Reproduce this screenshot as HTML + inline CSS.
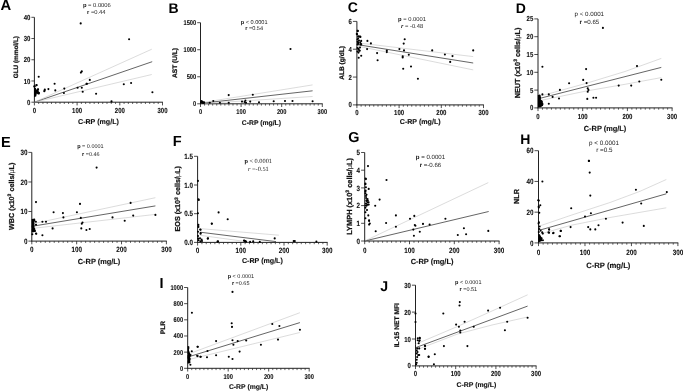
<!DOCTYPE html>
<html><head><meta charset="utf-8"><style>
html,body{margin:0;padding:0;background:#fff;width:685px;height:391px;overflow:hidden;font-family:"Liberation Sans", sans-serif;}
</style></head><body>
<svg width="685" height="391" viewBox="0 0 685 391" style="display:block;will-change:transform" text-rendering="geometricPrecision"><line x1="34.40" y1="17.30" x2="34.40" y2="102.60" stroke="#222" stroke-width="1.0"/>
<line x1="34.00" y1="102.20" x2="162.90" y2="102.20" stroke="#222" stroke-width="1.0"/>
<line x1="31.40" y1="102.20" x2="34.40" y2="102.20" stroke="#222" stroke-width="0.8"/>
<text transform="translate(30.40 104.76) scale(0.82 1)" font-size="7.32" font-weight="bold" text-anchor="end" fill="#111" stroke="#111" stroke-width="0.12" font-family='"Liberation Sans", sans-serif'>0</text>
<line x1="31.40" y1="80.97" x2="34.40" y2="80.97" stroke="#222" stroke-width="0.8"/>
<text transform="translate(30.40 83.54) scale(0.82 1)" font-size="7.32" font-weight="bold" text-anchor="end" fill="#111" stroke="#111" stroke-width="0.12" font-family='"Liberation Sans", sans-serif'>10</text>
<line x1="31.40" y1="59.75" x2="34.40" y2="59.75" stroke="#222" stroke-width="0.8"/>
<text transform="translate(30.40 62.31) scale(0.82 1)" font-size="7.32" font-weight="bold" text-anchor="end" fill="#111" stroke="#111" stroke-width="0.12" font-family='"Liberation Sans", sans-serif'>20</text>
<line x1="31.40" y1="38.52" x2="34.40" y2="38.52" stroke="#222" stroke-width="0.8"/>
<text transform="translate(30.40 41.09) scale(0.82 1)" font-size="7.32" font-weight="bold" text-anchor="end" fill="#111" stroke="#111" stroke-width="0.12" font-family='"Liberation Sans", sans-serif'>30</text>
<line x1="31.40" y1="17.30" x2="34.40" y2="17.30" stroke="#222" stroke-width="0.8"/>
<text transform="translate(30.40 19.86) scale(0.82 1)" font-size="7.32" font-weight="bold" text-anchor="end" fill="#111" stroke="#111" stroke-width="0.12" font-family='"Liberation Sans", sans-serif'>40</text>
<line x1="34.40" y1="102.20" x2="34.40" y2="105.40" stroke="#222" stroke-width="0.8"/>
<line x1="38.67" y1="102.20" x2="38.67" y2="104.00" stroke="#222" stroke-width="0.7"/>
<line x1="42.94" y1="102.20" x2="42.94" y2="104.00" stroke="#222" stroke-width="0.7"/>
<line x1="47.21" y1="102.20" x2="47.21" y2="104.00" stroke="#222" stroke-width="0.7"/>
<line x1="51.48" y1="102.20" x2="51.48" y2="104.00" stroke="#222" stroke-width="0.7"/>
<line x1="55.75" y1="102.20" x2="55.75" y2="104.00" stroke="#222" stroke-width="0.7"/>
<line x1="60.02" y1="102.20" x2="60.02" y2="104.00" stroke="#222" stroke-width="0.7"/>
<line x1="64.29" y1="102.20" x2="64.29" y2="104.00" stroke="#222" stroke-width="0.7"/>
<line x1="68.56" y1="102.20" x2="68.56" y2="104.00" stroke="#222" stroke-width="0.7"/>
<line x1="72.83" y1="102.20" x2="72.83" y2="104.00" stroke="#222" stroke-width="0.7"/>
<line x1="77.10" y1="102.20" x2="77.10" y2="105.40" stroke="#222" stroke-width="0.8"/>
<line x1="81.37" y1="102.20" x2="81.37" y2="104.00" stroke="#222" stroke-width="0.7"/>
<line x1="85.64" y1="102.20" x2="85.64" y2="104.00" stroke="#222" stroke-width="0.7"/>
<line x1="89.91" y1="102.20" x2="89.91" y2="104.00" stroke="#222" stroke-width="0.7"/>
<line x1="94.18" y1="102.20" x2="94.18" y2="104.00" stroke="#222" stroke-width="0.7"/>
<line x1="98.45" y1="102.20" x2="98.45" y2="104.00" stroke="#222" stroke-width="0.7"/>
<line x1="102.72" y1="102.20" x2="102.72" y2="104.00" stroke="#222" stroke-width="0.7"/>
<line x1="106.99" y1="102.20" x2="106.99" y2="104.00" stroke="#222" stroke-width="0.7"/>
<line x1="111.26" y1="102.20" x2="111.26" y2="104.00" stroke="#222" stroke-width="0.7"/>
<line x1="115.53" y1="102.20" x2="115.53" y2="104.00" stroke="#222" stroke-width="0.7"/>
<line x1="119.80" y1="102.20" x2="119.80" y2="105.40" stroke="#222" stroke-width="0.8"/>
<line x1="124.07" y1="102.20" x2="124.07" y2="104.00" stroke="#222" stroke-width="0.7"/>
<line x1="128.34" y1="102.20" x2="128.34" y2="104.00" stroke="#222" stroke-width="0.7"/>
<line x1="132.61" y1="102.20" x2="132.61" y2="104.00" stroke="#222" stroke-width="0.7"/>
<line x1="136.88" y1="102.20" x2="136.88" y2="104.00" stroke="#222" stroke-width="0.7"/>
<line x1="141.15" y1="102.20" x2="141.15" y2="104.00" stroke="#222" stroke-width="0.7"/>
<line x1="145.42" y1="102.20" x2="145.42" y2="104.00" stroke="#222" stroke-width="0.7"/>
<line x1="149.69" y1="102.20" x2="149.69" y2="104.00" stroke="#222" stroke-width="0.7"/>
<line x1="153.96" y1="102.20" x2="153.96" y2="104.00" stroke="#222" stroke-width="0.7"/>
<line x1="158.23" y1="102.20" x2="158.23" y2="104.00" stroke="#222" stroke-width="0.7"/>
<line x1="162.50" y1="102.20" x2="162.50" y2="105.40" stroke="#222" stroke-width="0.8"/>
<text transform="translate(34.40 112.92) scale(0.82 1)" font-size="7.32" font-weight="bold" text-anchor="middle" fill="#111" stroke="#111" stroke-width="0.12" font-family='"Liberation Sans", sans-serif'>0</text>
<text transform="translate(77.10 112.92) scale(0.82 1)" font-size="7.32" font-weight="bold" text-anchor="middle" fill="#111" stroke="#111" stroke-width="0.12" font-family='"Liberation Sans", sans-serif'>100</text>
<text transform="translate(119.80 112.92) scale(0.82 1)" font-size="7.32" font-weight="bold" text-anchor="middle" fill="#111" stroke="#111" stroke-width="0.12" font-family='"Liberation Sans", sans-serif'>200</text>
<text transform="translate(162.50 112.92) scale(0.82 1)" font-size="7.32" font-weight="bold" text-anchor="middle" fill="#111" stroke="#111" stroke-width="0.12" font-family='"Liberation Sans", sans-serif'>300</text>
<text x="98.45" y="123.81" font-size="7.1" font-weight="bold" text-anchor="middle" fill="#111" font-family='"Liberation Sans", sans-serif' stroke="#111" stroke-width="0.12">C-RP (mg/L)</text>
<text x="17.60" y="57.20" font-size="6.4" font-weight="bold" text-anchor="middle" fill="#111" stroke="#111" stroke-width="0.25" font-family='"Liberation Sans", sans-serif' transform="rotate(-90 17.60 57.20)">GLU (mmol/L)</text>
<text x="0.60" y="10.07" font-size="14.8" font-weight="bold" text-anchor="start" fill="#000" font-family='"Liberation Sans", sans-serif'>A</text>
<text x="82.90" y="7.12" font-size="5.8" xml:space="preserve"><tspan font-weight="bold" font-style="normal" font-family='"Liberation Sans", sans-serif' fill="#111">p</tspan><tspan font-weight="normal" font-style="normal" font-family='"Liberation Sans", sans-serif' fill="#222"> = 0.0006</tspan></text>
<text x="87.00" y="14.32" font-size="5.8" xml:space="preserve"><tspan font-weight="bold" font-style="normal" font-family='"Liberation Sans", sans-serif' fill="#111">r</tspan><tspan font-weight="normal" font-style="normal" font-family='"Liberation Sans", sans-serif' fill="#222"> =0.44</tspan></text>
<line x1="34.40" y1="102.20" x2="152.20" y2="61.70" stroke="#222" stroke-width="0.7"/>
<line x1="34.40" y1="102.20" x2="151.80" y2="49.20" stroke="#b8b8b8" stroke-width="0.5"/>
<line x1="34.40" y1="102.20" x2="151.80" y2="74.50" stroke="#b8b8b8" stroke-width="0.5"/>
<circle cx="80.70" cy="23.40" r="1.05" fill="#000"/>
<circle cx="129.10" cy="39.20" r="1.05" fill="#000"/>
<circle cx="38.70" cy="76.70" r="1.05" fill="#000"/>
<circle cx="81.80" cy="71.40" r="1.05" fill="#000"/>
<circle cx="80.90" cy="72.60" r="1.05" fill="#000"/>
<circle cx="54.60" cy="83.70" r="1.05" fill="#000"/>
<circle cx="55.30" cy="90.40" r="1.05" fill="#000"/>
<circle cx="48.40" cy="89.10" r="1.05" fill="#000"/>
<circle cx="44.80" cy="89.50" r="1.05" fill="#000"/>
<circle cx="44.30" cy="91.30" r="1.05" fill="#000"/>
<circle cx="64.30" cy="88.60" r="1.05" fill="#000"/>
<circle cx="63.90" cy="93.00" r="1.05" fill="#000"/>
<circle cx="77.60" cy="87.70" r="1.05" fill="#000"/>
<circle cx="81.80" cy="87.70" r="1.05" fill="#000"/>
<circle cx="82.70" cy="91.80" r="1.05" fill="#000"/>
<circle cx="86.90" cy="83.80" r="1.05" fill="#000"/>
<circle cx="89.80" cy="79.90" r="1.05" fill="#000"/>
<circle cx="86.50" cy="83.70" r="1.05" fill="#000"/>
<circle cx="96.10" cy="93.70" r="1.05" fill="#000"/>
<circle cx="123.80" cy="84.30" r="1.05" fill="#000"/>
<circle cx="131.10" cy="83.00" r="1.05" fill="#000"/>
<circle cx="152.40" cy="92.20" r="1.05" fill="#000"/>
<circle cx="111.50" cy="101.40" r="1.05" fill="#000"/>
<circle cx="36.50" cy="85.20" r="1.05" fill="#000"/>
<circle cx="34.70" cy="86.60" r="1.05" fill="#000"/>
<circle cx="38.10" cy="89.20" r="1.05" fill="#000"/>
<circle cx="36.50" cy="85.10" r="1.05" fill="#000"/>
<circle cx="34.30" cy="86.40" r="1.05" fill="#000"/>
<circle cx="37.90" cy="89.50" r="1.05" fill="#000"/>
<circle cx="38.90" cy="93.00" r="1.05" fill="#000"/>
<circle cx="37.20" cy="92.00" r="1.05" fill="#000"/>
<circle cx="44.60" cy="90.50" r="1.05" fill="#000"/>
<polygon points="34.00,88.00 35.80,88.00 36.50,89.80 37.50,89.00 38.80,89.60 38.40,91.00 39.80,92.50 39.50,94.50 38.00,94.60 36.80,93.60 36.20,96.40 34.00,96.90" fill="#000"/>
<line x1="200.50" y1="22.70" x2="200.50" y2="104.20" stroke="#222" stroke-width="1.0"/>
<line x1="200.10" y1="103.80" x2="322.70" y2="103.80" stroke="#222" stroke-width="1.0"/>
<line x1="197.20" y1="103.80" x2="200.50" y2="103.80" stroke="#222" stroke-width="0.8"/>
<text transform="translate(196.20 106.24) scale(0.82 1)" font-size="6.96" font-weight="bold" text-anchor="end" fill="#111" stroke="#111" stroke-width="0.12" font-family='"Liberation Sans", sans-serif'>0</text>
<line x1="197.20" y1="76.77" x2="200.50" y2="76.77" stroke="#222" stroke-width="0.8"/>
<text transform="translate(196.20 79.20) scale(0.82 1)" font-size="6.96" font-weight="bold" text-anchor="end" fill="#111" stroke="#111" stroke-width="0.12" font-family='"Liberation Sans", sans-serif'>500</text>
<line x1="197.20" y1="49.73" x2="200.50" y2="49.73" stroke="#222" stroke-width="0.8"/>
<text transform="translate(196.20 52.17) scale(0.82 1)" font-size="6.96" font-weight="bold" text-anchor="end" fill="#111" stroke="#111" stroke-width="0.12" font-family='"Liberation Sans", sans-serif'>1000</text>
<line x1="197.20" y1="22.70" x2="200.50" y2="22.70" stroke="#222" stroke-width="0.8"/>
<text transform="translate(196.20 25.14) scale(0.82 1)" font-size="6.96" font-weight="bold" text-anchor="end" fill="#111" stroke="#111" stroke-width="0.12" font-family='"Liberation Sans", sans-serif'>1500</text>
<line x1="200.50" y1="103.80" x2="200.50" y2="107.00" stroke="#222" stroke-width="0.8"/>
<line x1="204.56" y1="103.80" x2="204.56" y2="105.60" stroke="#222" stroke-width="0.7"/>
<line x1="208.62" y1="103.80" x2="208.62" y2="105.60" stroke="#222" stroke-width="0.7"/>
<line x1="212.68" y1="103.80" x2="212.68" y2="105.60" stroke="#222" stroke-width="0.7"/>
<line x1="216.74" y1="103.80" x2="216.74" y2="105.60" stroke="#222" stroke-width="0.7"/>
<line x1="220.80" y1="103.80" x2="220.80" y2="105.60" stroke="#222" stroke-width="0.7"/>
<line x1="224.86" y1="103.80" x2="224.86" y2="105.60" stroke="#222" stroke-width="0.7"/>
<line x1="228.92" y1="103.80" x2="228.92" y2="105.60" stroke="#222" stroke-width="0.7"/>
<line x1="232.98" y1="103.80" x2="232.98" y2="105.60" stroke="#222" stroke-width="0.7"/>
<line x1="237.04" y1="103.80" x2="237.04" y2="105.60" stroke="#222" stroke-width="0.7"/>
<line x1="241.10" y1="103.80" x2="241.10" y2="107.00" stroke="#222" stroke-width="0.8"/>
<line x1="245.16" y1="103.80" x2="245.16" y2="105.60" stroke="#222" stroke-width="0.7"/>
<line x1="249.22" y1="103.80" x2="249.22" y2="105.60" stroke="#222" stroke-width="0.7"/>
<line x1="253.28" y1="103.80" x2="253.28" y2="105.60" stroke="#222" stroke-width="0.7"/>
<line x1="257.34" y1="103.80" x2="257.34" y2="105.60" stroke="#222" stroke-width="0.7"/>
<line x1="261.40" y1="103.80" x2="261.40" y2="105.60" stroke="#222" stroke-width="0.7"/>
<line x1="265.46" y1="103.80" x2="265.46" y2="105.60" stroke="#222" stroke-width="0.7"/>
<line x1="269.52" y1="103.80" x2="269.52" y2="105.60" stroke="#222" stroke-width="0.7"/>
<line x1="273.58" y1="103.80" x2="273.58" y2="105.60" stroke="#222" stroke-width="0.7"/>
<line x1="277.64" y1="103.80" x2="277.64" y2="105.60" stroke="#222" stroke-width="0.7"/>
<line x1="281.70" y1="103.80" x2="281.70" y2="107.00" stroke="#222" stroke-width="0.8"/>
<line x1="285.76" y1="103.80" x2="285.76" y2="105.60" stroke="#222" stroke-width="0.7"/>
<line x1="289.82" y1="103.80" x2="289.82" y2="105.60" stroke="#222" stroke-width="0.7"/>
<line x1="293.88" y1="103.80" x2="293.88" y2="105.60" stroke="#222" stroke-width="0.7"/>
<line x1="297.94" y1="103.80" x2="297.94" y2="105.60" stroke="#222" stroke-width="0.7"/>
<line x1="302.00" y1="103.80" x2="302.00" y2="105.60" stroke="#222" stroke-width="0.7"/>
<line x1="306.06" y1="103.80" x2="306.06" y2="105.60" stroke="#222" stroke-width="0.7"/>
<line x1="310.12" y1="103.80" x2="310.12" y2="105.60" stroke="#222" stroke-width="0.7"/>
<line x1="314.18" y1="103.80" x2="314.18" y2="105.60" stroke="#222" stroke-width="0.7"/>
<line x1="318.24" y1="103.80" x2="318.24" y2="105.60" stroke="#222" stroke-width="0.7"/>
<line x1="322.30" y1="103.80" x2="322.30" y2="107.00" stroke="#222" stroke-width="0.8"/>
<text transform="translate(200.50 114.47) scale(0.82 1)" font-size="6.96" font-weight="bold" text-anchor="middle" fill="#111" stroke="#111" stroke-width="0.12" font-family='"Liberation Sans", sans-serif'>0</text>
<text transform="translate(241.10 114.47) scale(0.82 1)" font-size="6.96" font-weight="bold" text-anchor="middle" fill="#111" stroke="#111" stroke-width="0.12" font-family='"Liberation Sans", sans-serif'>100</text>
<text transform="translate(281.70 114.47) scale(0.82 1)" font-size="6.96" font-weight="bold" text-anchor="middle" fill="#111" stroke="#111" stroke-width="0.12" font-family='"Liberation Sans", sans-serif'>200</text>
<text transform="translate(322.30 114.47) scale(0.82 1)" font-size="6.96" font-weight="bold" text-anchor="middle" fill="#111" stroke="#111" stroke-width="0.12" font-family='"Liberation Sans", sans-serif'>300</text>
<text x="261.40" y="125.10" font-size="6.8" font-weight="bold" text-anchor="middle" fill="#111" font-family='"Liberation Sans", sans-serif' stroke="#111" stroke-width="0.12">C-RP (mg/L)</text>
<text x="177.28" y="63.00" font-size="6.6" font-weight="bold" text-anchor="middle" fill="#111" stroke="#111" stroke-width="0.25" font-family='"Liberation Sans", sans-serif' transform="rotate(-90 177.28 63.00)">AST (U/L)</text>
<text x="168.60" y="12.58" font-size="14" font-weight="bold" text-anchor="start" fill="#000" font-family='"Liberation Sans", sans-serif'>B</text>
<text x="240.70" y="23.58" font-size="5.6" xml:space="preserve"><tspan font-weight="bold" font-style="normal" font-family='"Liberation Sans", sans-serif' fill="#111">p</tspan><tspan font-weight="normal" font-style="normal" font-family='"Liberation Sans", sans-serif' fill="#222"> &lt; 0.0001</tspan></text>
<text x="245.20" y="30.08" font-size="5.6" xml:space="preserve"><tspan font-weight="bold" font-style="normal" font-family='"Liberation Sans", sans-serif' fill="#111">r</tspan><tspan font-weight="normal" font-style="normal" font-family='"Liberation Sans", sans-serif' fill="#222"> =0.54</tspan></text>
<line x1="202.00" y1="103.20" x2="312.60" y2="90.80" stroke="#222" stroke-width="0.7"/>
<line x1="202.00" y1="102.60" x2="312.60" y2="84.90" stroke="#b8b8b8" stroke-width="0.5"/>
<line x1="202.00" y1="103.60" x2="312.60" y2="96.50" stroke="#b8b8b8" stroke-width="0.5"/>
<circle cx="228.70" cy="95.10" r="1.05" fill="#000"/>
<circle cx="252.80" cy="94.70" r="1.05" fill="#000"/>
<circle cx="290.50" cy="49.00" r="1.05" fill="#000"/>
<circle cx="273.70" cy="101.20" r="1.05" fill="#000"/>
<circle cx="285.00" cy="101.00" r="1.05" fill="#000"/>
<circle cx="292.50" cy="101.00" r="1.05" fill="#000"/>
<circle cx="312.60" cy="101.20" r="1.05" fill="#000"/>
<circle cx="259.00" cy="102.30" r="1.05" fill="#000"/>
<circle cx="250.20" cy="101.60" r="1.05" fill="#000"/>
<circle cx="245.40" cy="100.60" r="1.05" fill="#000"/>
<circle cx="244.60" cy="102.00" r="1.05" fill="#000"/>
<circle cx="246.00" cy="102.70" r="1.05" fill="#000"/>
<circle cx="242.00" cy="101.60" r="1.05" fill="#000"/>
<circle cx="228.70" cy="102.70" r="1.05" fill="#000"/>
<circle cx="219.90" cy="102.70" r="1.05" fill="#000"/>
<circle cx="213.30" cy="101.00" r="1.05" fill="#000"/>
<circle cx="209.80" cy="102.70" r="1.05" fill="#000"/>
<circle cx="201.00" cy="102.50" r="1.05" fill="#000"/>
<circle cx="202.50" cy="101.80" r="1.05" fill="#000"/>
<circle cx="204.00" cy="102.80" r="1.05" fill="#000"/>
<circle cx="201.50" cy="101.00" r="1.05" fill="#000"/>
<circle cx="203.00" cy="103.00" r="1.05" fill="#000"/>
<polygon points="200.40,101.30 202.20,101.00 203.20,101.60 204.30,101.20 205.20,102.00 205.00,103.60 200.40,103.60" fill="#000"/>
<line x1="356.90" y1="21.40" x2="356.90" y2="105.30" stroke="#222" stroke-width="1.0"/>
<line x1="356.50" y1="104.90" x2="483.90" y2="104.90" stroke="#222" stroke-width="1.0"/>
<line x1="352.90" y1="104.90" x2="356.90" y2="104.90" stroke="#222" stroke-width="0.8"/>
<text transform="translate(351.90 107.46) scale(0.82 1)" font-size="7.32" font-weight="bold" text-anchor="end" fill="#111" stroke="#111" stroke-width="0.12" font-family='"Liberation Sans", sans-serif'>0</text>
<line x1="352.90" y1="77.07" x2="356.90" y2="77.07" stroke="#222" stroke-width="0.8"/>
<text transform="translate(351.90 79.63) scale(0.82 1)" font-size="7.32" font-weight="bold" text-anchor="end" fill="#111" stroke="#111" stroke-width="0.12" font-family='"Liberation Sans", sans-serif'>2</text>
<line x1="352.90" y1="49.23" x2="356.90" y2="49.23" stroke="#222" stroke-width="0.8"/>
<text transform="translate(351.90 51.79) scale(0.82 1)" font-size="7.32" font-weight="bold" text-anchor="end" fill="#111" stroke="#111" stroke-width="0.12" font-family='"Liberation Sans", sans-serif'>4</text>
<line x1="352.90" y1="21.40" x2="356.90" y2="21.40" stroke="#222" stroke-width="0.8"/>
<text transform="translate(351.90 23.96) scale(0.82 1)" font-size="7.32" font-weight="bold" text-anchor="end" fill="#111" stroke="#111" stroke-width="0.12" font-family='"Liberation Sans", sans-serif'>6</text>
<line x1="356.90" y1="104.90" x2="356.90" y2="108.10" stroke="#222" stroke-width="0.8"/>
<line x1="361.12" y1="104.90" x2="361.12" y2="106.70" stroke="#222" stroke-width="0.7"/>
<line x1="365.34" y1="104.90" x2="365.34" y2="106.70" stroke="#222" stroke-width="0.7"/>
<line x1="369.56" y1="104.90" x2="369.56" y2="106.70" stroke="#222" stroke-width="0.7"/>
<line x1="373.78" y1="104.90" x2="373.78" y2="106.70" stroke="#222" stroke-width="0.7"/>
<line x1="378.00" y1="104.90" x2="378.00" y2="106.70" stroke="#222" stroke-width="0.7"/>
<line x1="382.22" y1="104.90" x2="382.22" y2="106.70" stroke="#222" stroke-width="0.7"/>
<line x1="386.44" y1="104.90" x2="386.44" y2="106.70" stroke="#222" stroke-width="0.7"/>
<line x1="390.66" y1="104.90" x2="390.66" y2="106.70" stroke="#222" stroke-width="0.7"/>
<line x1="394.88" y1="104.90" x2="394.88" y2="106.70" stroke="#222" stroke-width="0.7"/>
<line x1="399.10" y1="104.90" x2="399.10" y2="108.10" stroke="#222" stroke-width="0.8"/>
<line x1="403.32" y1="104.90" x2="403.32" y2="106.70" stroke="#222" stroke-width="0.7"/>
<line x1="407.54" y1="104.90" x2="407.54" y2="106.70" stroke="#222" stroke-width="0.7"/>
<line x1="411.76" y1="104.90" x2="411.76" y2="106.70" stroke="#222" stroke-width="0.7"/>
<line x1="415.98" y1="104.90" x2="415.98" y2="106.70" stroke="#222" stroke-width="0.7"/>
<line x1="420.20" y1="104.90" x2="420.20" y2="106.70" stroke="#222" stroke-width="0.7"/>
<line x1="424.42" y1="104.90" x2="424.42" y2="106.70" stroke="#222" stroke-width="0.7"/>
<line x1="428.64" y1="104.90" x2="428.64" y2="106.70" stroke="#222" stroke-width="0.7"/>
<line x1="432.86" y1="104.90" x2="432.86" y2="106.70" stroke="#222" stroke-width="0.7"/>
<line x1="437.08" y1="104.90" x2="437.08" y2="106.70" stroke="#222" stroke-width="0.7"/>
<line x1="441.30" y1="104.90" x2="441.30" y2="108.10" stroke="#222" stroke-width="0.8"/>
<line x1="445.52" y1="104.90" x2="445.52" y2="106.70" stroke="#222" stroke-width="0.7"/>
<line x1="449.74" y1="104.90" x2="449.74" y2="106.70" stroke="#222" stroke-width="0.7"/>
<line x1="453.96" y1="104.90" x2="453.96" y2="106.70" stroke="#222" stroke-width="0.7"/>
<line x1="458.18" y1="104.90" x2="458.18" y2="106.70" stroke="#222" stroke-width="0.7"/>
<line x1="462.40" y1="104.90" x2="462.40" y2="106.70" stroke="#222" stroke-width="0.7"/>
<line x1="466.62" y1="104.90" x2="466.62" y2="106.70" stroke="#222" stroke-width="0.7"/>
<line x1="470.84" y1="104.90" x2="470.84" y2="106.70" stroke="#222" stroke-width="0.7"/>
<line x1="475.06" y1="104.90" x2="475.06" y2="106.70" stroke="#222" stroke-width="0.7"/>
<line x1="479.28" y1="104.90" x2="479.28" y2="106.70" stroke="#222" stroke-width="0.7"/>
<line x1="483.50" y1="104.90" x2="483.50" y2="108.10" stroke="#222" stroke-width="0.8"/>
<text transform="translate(356.90 115.32) scale(0.82 1)" font-size="7.32" font-weight="bold" text-anchor="middle" fill="#111" stroke="#111" stroke-width="0.12" font-family='"Liberation Sans", sans-serif'>0</text>
<text transform="translate(399.10 115.32) scale(0.82 1)" font-size="7.32" font-weight="bold" text-anchor="middle" fill="#111" stroke="#111" stroke-width="0.12" font-family='"Liberation Sans", sans-serif'>100</text>
<text transform="translate(441.30 115.32) scale(0.82 1)" font-size="7.32" font-weight="bold" text-anchor="middle" fill="#111" stroke="#111" stroke-width="0.12" font-family='"Liberation Sans", sans-serif'>200</text>
<text transform="translate(483.50 115.32) scale(0.82 1)" font-size="7.32" font-weight="bold" text-anchor="middle" fill="#111" stroke="#111" stroke-width="0.12" font-family='"Liberation Sans", sans-serif'>300</text>
<text x="420.20" y="124.21" font-size="7.1" font-weight="bold" text-anchor="middle" fill="#111" font-family='"Liberation Sans", sans-serif' stroke="#111" stroke-width="0.12">C-RP (mg/L)</text>
<text x="344.08" y="62.95" font-size="6.6" font-weight="bold" text-anchor="middle" fill="#111" stroke="#111" stroke-width="0.25" font-family='"Liberation Sans", sans-serif' transform="rotate(-90 344.08 62.95)">ALB (g/dL)</text>
<text x="347.66" y="12.42" font-size="14" font-weight="bold" text-anchor="start" fill="#000" font-family='"Liberation Sans", sans-serif'>C</text>
<text x="398.00" y="20.62" font-size="5.8" xml:space="preserve"><tspan font-weight="bold" font-style="normal" font-family='"Liberation Sans", sans-serif' fill="#111">p</tspan><tspan font-weight="normal" font-style="normal" font-family='"Liberation Sans", sans-serif' fill="#222"> = 0.0001</tspan></text>
<text x="401.10" y="27.52" font-size="5.8" xml:space="preserve"><tspan font-weight="bold" font-style="italic" font-family='"Liberation Sans", sans-serif' fill="#111">r</tspan><tspan font-weight="normal" font-style="normal" font-family='"Liberation Sans", sans-serif' fill="#222"> = -0.48</tspan></text>
<line x1="357.20" y1="44.60" x2="473.20" y2="63.00" stroke="#222" stroke-width="0.7"/>
<line x1="357.20" y1="42.80" x2="473.20" y2="56.60" stroke="#b8b8b8" stroke-width="0.5"/>
<line x1="357.20" y1="46.00" x2="473.20" y2="69.90" stroke="#b8b8b8" stroke-width="0.5"/>
<circle cx="357.60" cy="30.90" r="1.05" fill="#000"/>
<circle cx="357.10" cy="34.20" r="1.05" fill="#000"/>
<circle cx="358.10" cy="36.30" r="1.05" fill="#000"/>
<circle cx="360.20" cy="36.50" r="1.05" fill="#000"/>
<circle cx="358.10" cy="38.30" r="1.05" fill="#000"/>
<circle cx="361.20" cy="40.90" r="1.05" fill="#000"/>
<circle cx="367.40" cy="40.90" r="1.05" fill="#000"/>
<circle cx="370.90" cy="43.40" r="1.05" fill="#000"/>
<circle cx="358.10" cy="42.40" r="1.05" fill="#000"/>
<circle cx="357.60" cy="44.40" r="1.05" fill="#000"/>
<circle cx="360.70" cy="43.90" r="1.05" fill="#000"/>
<circle cx="361.20" cy="44.40" r="1.05" fill="#000"/>
<circle cx="404.70" cy="39.30" r="1.05" fill="#000"/>
<circle cx="403.70" cy="43.60" r="1.05" fill="#000"/>
<circle cx="399.40" cy="49.10" r="1.05" fill="#000"/>
<circle cx="404.00" cy="50.40" r="1.05" fill="#000"/>
<circle cx="386.80" cy="50.60" r="1.05" fill="#000"/>
<circle cx="386.80" cy="52.10" r="1.05" fill="#000"/>
<circle cx="408.80" cy="54.70" r="1.05" fill="#000"/>
<circle cx="402.70" cy="56.20" r="1.05" fill="#000"/>
<circle cx="402.70" cy="57.50" r="1.05" fill="#000"/>
<circle cx="377.10" cy="53.10" r="1.05" fill="#000"/>
<circle cx="377.60" cy="60.30" r="1.05" fill="#000"/>
<circle cx="367.10" cy="49.10" r="1.05" fill="#000"/>
<circle cx="361.20" cy="55.70" r="1.05" fill="#000"/>
<circle cx="358.70" cy="57.80" r="1.05" fill="#000"/>
<circle cx="357.50" cy="48.00" r="1.05" fill="#000"/>
<circle cx="358.50" cy="49.50" r="1.05" fill="#000"/>
<circle cx="359.50" cy="50.50" r="1.05" fill="#000"/>
<circle cx="357.50" cy="51.50" r="1.05" fill="#000"/>
<circle cx="358.50" cy="52.60" r="1.05" fill="#000"/>
<circle cx="360.00" cy="47.50" r="1.05" fill="#000"/>
<circle cx="357.80" cy="30.90" r="1.05" fill="#000"/>
<circle cx="356.80" cy="33.90" r="1.05" fill="#000"/>
<circle cx="359.30" cy="36.50" r="1.05" fill="#000"/>
<circle cx="360.40" cy="37.00" r="1.05" fill="#000"/>
<circle cx="357.50" cy="39.50" r="1.05" fill="#000"/>
<circle cx="359.00" cy="40.50" r="1.05" fill="#000"/>
<circle cx="357.60" cy="41.80" r="1.05" fill="#000"/>
<circle cx="360.20" cy="42.30" r="1.05" fill="#000"/>
<circle cx="358.30" cy="43.60" r="1.05" fill="#000"/>
<circle cx="360.50" cy="44.50" r="1.05" fill="#000"/>
<circle cx="358.50" cy="48.70" r="1.05" fill="#000"/>
<circle cx="359.60" cy="50.80" r="1.05" fill="#000"/>
<circle cx="473.20" cy="50.40" r="1.05" fill="#000"/>
<circle cx="444.90" cy="54.50" r="1.05" fill="#000"/>
<circle cx="452.50" cy="56.10" r="1.05" fill="#000"/>
<circle cx="450.20" cy="61.90" r="1.05" fill="#000"/>
<circle cx="432.20" cy="50.40" r="1.05" fill="#000"/>
<circle cx="417.90" cy="78.70" r="1.05" fill="#000"/>
<circle cx="411.00" cy="66.50" r="1.05" fill="#000"/>
<circle cx="403.20" cy="68.80" r="1.05" fill="#000"/>
<line x1="538.00" y1="18.90" x2="538.00" y2="108.30" stroke="#222" stroke-width="1.0"/>
<line x1="537.60" y1="107.90" x2="672.50" y2="107.90" stroke="#222" stroke-width="1.0"/>
<line x1="534.30" y1="107.90" x2="538.00" y2="107.90" stroke="#222" stroke-width="0.8"/>
<text transform="translate(533.30 110.46) scale(0.82 1)" font-size="7.32" font-weight="bold" text-anchor="end" fill="#111" stroke="#111" stroke-width="0.12" font-family='"Liberation Sans", sans-serif'>0</text>
<line x1="534.30" y1="90.10" x2="538.00" y2="90.10" stroke="#222" stroke-width="0.8"/>
<text transform="translate(533.30 92.66) scale(0.82 1)" font-size="7.32" font-weight="bold" text-anchor="end" fill="#111" stroke="#111" stroke-width="0.12" font-family='"Liberation Sans", sans-serif'>5</text>
<line x1="534.30" y1="72.30" x2="538.00" y2="72.30" stroke="#222" stroke-width="0.8"/>
<text transform="translate(533.30 74.86) scale(0.82 1)" font-size="7.32" font-weight="bold" text-anchor="end" fill="#111" stroke="#111" stroke-width="0.12" font-family='"Liberation Sans", sans-serif'>10</text>
<line x1="534.30" y1="54.50" x2="538.00" y2="54.50" stroke="#222" stroke-width="0.8"/>
<text transform="translate(533.30 57.06) scale(0.82 1)" font-size="7.32" font-weight="bold" text-anchor="end" fill="#111" stroke="#111" stroke-width="0.12" font-family='"Liberation Sans", sans-serif'>15</text>
<line x1="534.30" y1="36.70" x2="538.00" y2="36.70" stroke="#222" stroke-width="0.8"/>
<text transform="translate(533.30 39.26) scale(0.82 1)" font-size="7.32" font-weight="bold" text-anchor="end" fill="#111" stroke="#111" stroke-width="0.12" font-family='"Liberation Sans", sans-serif'>20</text>
<line x1="534.30" y1="18.90" x2="538.00" y2="18.90" stroke="#222" stroke-width="0.8"/>
<text transform="translate(533.30 21.46) scale(0.82 1)" font-size="7.32" font-weight="bold" text-anchor="end" fill="#111" stroke="#111" stroke-width="0.12" font-family='"Liberation Sans", sans-serif'>25</text>
<line x1="538.00" y1="107.90" x2="538.00" y2="111.10" stroke="#222" stroke-width="0.8"/>
<line x1="542.47" y1="107.90" x2="542.47" y2="109.70" stroke="#222" stroke-width="0.7"/>
<line x1="546.94" y1="107.90" x2="546.94" y2="109.70" stroke="#222" stroke-width="0.7"/>
<line x1="551.41" y1="107.90" x2="551.41" y2="109.70" stroke="#222" stroke-width="0.7"/>
<line x1="555.88" y1="107.90" x2="555.88" y2="109.70" stroke="#222" stroke-width="0.7"/>
<line x1="560.35" y1="107.90" x2="560.35" y2="109.70" stroke="#222" stroke-width="0.7"/>
<line x1="564.82" y1="107.90" x2="564.82" y2="109.70" stroke="#222" stroke-width="0.7"/>
<line x1="569.29" y1="107.90" x2="569.29" y2="109.70" stroke="#222" stroke-width="0.7"/>
<line x1="573.76" y1="107.90" x2="573.76" y2="109.70" stroke="#222" stroke-width="0.7"/>
<line x1="578.23" y1="107.90" x2="578.23" y2="109.70" stroke="#222" stroke-width="0.7"/>
<line x1="582.70" y1="107.90" x2="582.70" y2="111.10" stroke="#222" stroke-width="0.8"/>
<line x1="587.17" y1="107.90" x2="587.17" y2="109.70" stroke="#222" stroke-width="0.7"/>
<line x1="591.64" y1="107.90" x2="591.64" y2="109.70" stroke="#222" stroke-width="0.7"/>
<line x1="596.11" y1="107.90" x2="596.11" y2="109.70" stroke="#222" stroke-width="0.7"/>
<line x1="600.58" y1="107.90" x2="600.58" y2="109.70" stroke="#222" stroke-width="0.7"/>
<line x1="605.05" y1="107.90" x2="605.05" y2="109.70" stroke="#222" stroke-width="0.7"/>
<line x1="609.52" y1="107.90" x2="609.52" y2="109.70" stroke="#222" stroke-width="0.7"/>
<line x1="613.99" y1="107.90" x2="613.99" y2="109.70" stroke="#222" stroke-width="0.7"/>
<line x1="618.46" y1="107.90" x2="618.46" y2="109.70" stroke="#222" stroke-width="0.7"/>
<line x1="622.93" y1="107.90" x2="622.93" y2="109.70" stroke="#222" stroke-width="0.7"/>
<line x1="627.40" y1="107.90" x2="627.40" y2="111.10" stroke="#222" stroke-width="0.8"/>
<line x1="631.87" y1="107.90" x2="631.87" y2="109.70" stroke="#222" stroke-width="0.7"/>
<line x1="636.34" y1="107.90" x2="636.34" y2="109.70" stroke="#222" stroke-width="0.7"/>
<line x1="640.81" y1="107.90" x2="640.81" y2="109.70" stroke="#222" stroke-width="0.7"/>
<line x1="645.28" y1="107.90" x2="645.28" y2="109.70" stroke="#222" stroke-width="0.7"/>
<line x1="649.75" y1="107.90" x2="649.75" y2="109.70" stroke="#222" stroke-width="0.7"/>
<line x1="654.22" y1="107.90" x2="654.22" y2="109.70" stroke="#222" stroke-width="0.7"/>
<line x1="658.69" y1="107.90" x2="658.69" y2="109.70" stroke="#222" stroke-width="0.7"/>
<line x1="663.16" y1="107.90" x2="663.16" y2="109.70" stroke="#222" stroke-width="0.7"/>
<line x1="667.63" y1="107.90" x2="667.63" y2="109.70" stroke="#222" stroke-width="0.7"/>
<line x1="672.10" y1="107.90" x2="672.10" y2="111.10" stroke="#222" stroke-width="0.8"/>
<text transform="translate(538.00 119.12) scale(0.82 1)" font-size="7.32" font-weight="bold" text-anchor="middle" fill="#111" stroke="#111" stroke-width="0.12" font-family='"Liberation Sans", sans-serif'>0</text>
<text transform="translate(582.70 119.12) scale(0.82 1)" font-size="7.32" font-weight="bold" text-anchor="middle" fill="#111" stroke="#111" stroke-width="0.12" font-family='"Liberation Sans", sans-serif'>100</text>
<text transform="translate(627.40 119.12) scale(0.82 1)" font-size="7.32" font-weight="bold" text-anchor="middle" fill="#111" stroke="#111" stroke-width="0.12" font-family='"Liberation Sans", sans-serif'>200</text>
<text transform="translate(672.10 119.12) scale(0.82 1)" font-size="7.32" font-weight="bold" text-anchor="middle" fill="#111" stroke="#111" stroke-width="0.12" font-family='"Liberation Sans", sans-serif'>300</text>
<text x="605.05" y="131.23" font-size="7.4" font-weight="bold" text-anchor="middle" fill="#111" font-family='"Liberation Sans", sans-serif' stroke="#111" stroke-width="0.12">C-RP (mg/L)</text>
<text x="520.23" y="63.00" font-size="7.3" font-weight="bold" text-anchor="middle" fill="#111" stroke="#111" stroke-width="0.25" font-family='"Liberation Sans", sans-serif' transform="rotate(-90 520.23 63.00)">NEUT (x10<tspan font-size="5" dy="-2.8">3</tspan><tspan dy="2.8"> cells/</tspan><tspan font-weight="normal" stroke-width="0">μ</tspan>L)</text>
<text x="515.64" y="12.54" font-size="14" font-weight="bold" text-anchor="start" fill="#000" font-family='"Liberation Sans", sans-serif'>D</text>
<text x="574.60" y="16.40" font-size="6.2" xml:space="preserve"><tspan font-weight="normal" font-style="normal" font-family='"Liberation Sans", sans-serif' fill="#111">p</tspan><tspan font-weight="normal" font-style="normal" font-family='"Liberation Sans", sans-serif' fill="#222"> &lt; 0.0001</tspan></text>
<text x="579.50" y="24.00" font-size="6.2" xml:space="preserve"><tspan font-weight="bold" font-style="normal" font-family='"Liberation Sans", sans-serif' fill="#111">r</tspan><tspan font-weight="normal" font-style="normal" font-family='"Liberation Sans", sans-serif' fill="#222"> =0.65</tspan></text>
<line x1="538.50" y1="98.70" x2="661.30" y2="67.40" stroke="#222" stroke-width="0.7"/>
<polyline points="538.50,96.60 586.30,83.30 625.00,71.50 661.30,58.40" fill="none" stroke="#b8b8b8" stroke-width="0.5" stroke-linejoin="round"/>
<polyline points="538.50,100.90 586.30,91.00 625.00,84.30 661.30,77.60" fill="none" stroke="#b8b8b8" stroke-width="0.5" stroke-linejoin="round"/>
<circle cx="602.90" cy="27.90" r="1.05" fill="#000"/>
<circle cx="542.40" cy="66.80" r="1.05" fill="#000"/>
<circle cx="586.10" cy="69.10" r="1.05" fill="#000"/>
<circle cx="637.00" cy="66.10" r="1.05" fill="#000"/>
<circle cx="661.30" cy="79.70" r="1.05" fill="#000"/>
<circle cx="639.30" cy="81.50" r="1.05" fill="#000"/>
<circle cx="631.20" cy="85.60" r="1.05" fill="#000"/>
<circle cx="618.70" cy="85.60" r="1.05" fill="#000"/>
<circle cx="583.20" cy="79.90" r="1.05" fill="#000"/>
<circle cx="586.60" cy="83.10" r="1.05" fill="#000"/>
<circle cx="569.10" cy="83.30" r="1.05" fill="#000"/>
<circle cx="587.70" cy="88.30" r="1.05" fill="#000"/>
<circle cx="588.40" cy="89.90" r="1.05" fill="#000"/>
<circle cx="587.70" cy="91.70" r="1.05" fill="#000"/>
<circle cx="559.90" cy="89.90" r="1.05" fill="#000"/>
<circle cx="559.00" cy="98.50" r="1.05" fill="#000"/>
<circle cx="587.30" cy="98.90" r="1.05" fill="#000"/>
<circle cx="593.40" cy="97.80" r="1.05" fill="#000"/>
<circle cx="596.10" cy="97.80" r="1.05" fill="#000"/>
<circle cx="552.60" cy="96.90" r="1.05" fill="#000"/>
<circle cx="548.80" cy="94.40" r="1.05" fill="#000"/>
<circle cx="548.80" cy="103.70" r="1.05" fill="#000"/>
<circle cx="542.40" cy="94.40" r="1.05" fill="#000"/>
<circle cx="542.40" cy="104.60" r="1.05" fill="#000"/>
<circle cx="539.50" cy="95.50" r="1.05" fill="#000"/>
<circle cx="541.50" cy="101.50" r="1.05" fill="#000"/>
<circle cx="542.30" cy="103.50" r="1.05" fill="#000"/>
<circle cx="542.00" cy="105.20" r="1.05" fill="#000"/>
<polygon points="537.80,95.00 540.00,95.00 541.00,97.00 540.80,99.50 542.60,101.00 542.80,103.00 542.60,105.50 541.00,107.20 537.80,107.50" fill="#000"/>
<line x1="31.80" y1="152.40" x2="31.80" y2="241.50" stroke="#222" stroke-width="1.0"/>
<line x1="31.40" y1="241.10" x2="166.80" y2="241.10" stroke="#222" stroke-width="1.0"/>
<line x1="28.40" y1="241.10" x2="31.80" y2="241.10" stroke="#222" stroke-width="0.8"/>
<text transform="translate(27.40 243.78) scale(0.82 1)" font-size="7.67" font-weight="bold" text-anchor="end" fill="#111" stroke="#111" stroke-width="0.12" font-family='"Liberation Sans", sans-serif'>0</text>
<line x1="28.40" y1="211.53" x2="31.80" y2="211.53" stroke="#222" stroke-width="0.8"/>
<text transform="translate(27.40 214.22) scale(0.82 1)" font-size="7.67" font-weight="bold" text-anchor="end" fill="#111" stroke="#111" stroke-width="0.12" font-family='"Liberation Sans", sans-serif'>10</text>
<line x1="28.40" y1="181.97" x2="31.80" y2="181.97" stroke="#222" stroke-width="0.8"/>
<text transform="translate(27.40 184.65) scale(0.82 1)" font-size="7.67" font-weight="bold" text-anchor="end" fill="#111" stroke="#111" stroke-width="0.12" font-family='"Liberation Sans", sans-serif'>20</text>
<line x1="28.40" y1="152.40" x2="31.80" y2="152.40" stroke="#222" stroke-width="0.8"/>
<text transform="translate(27.40 155.08) scale(0.82 1)" font-size="7.67" font-weight="bold" text-anchor="end" fill="#111" stroke="#111" stroke-width="0.12" font-family='"Liberation Sans", sans-serif'>30</text>
<line x1="31.80" y1="241.10" x2="31.80" y2="244.30" stroke="#222" stroke-width="0.8"/>
<line x1="36.29" y1="241.10" x2="36.29" y2="242.90" stroke="#222" stroke-width="0.7"/>
<line x1="40.77" y1="241.10" x2="40.77" y2="242.90" stroke="#222" stroke-width="0.7"/>
<line x1="45.26" y1="241.10" x2="45.26" y2="242.90" stroke="#222" stroke-width="0.7"/>
<line x1="49.75" y1="241.10" x2="49.75" y2="242.90" stroke="#222" stroke-width="0.7"/>
<line x1="54.23" y1="241.10" x2="54.23" y2="242.90" stroke="#222" stroke-width="0.7"/>
<line x1="58.72" y1="241.10" x2="58.72" y2="242.90" stroke="#222" stroke-width="0.7"/>
<line x1="63.21" y1="241.10" x2="63.21" y2="242.90" stroke="#222" stroke-width="0.7"/>
<line x1="67.69" y1="241.10" x2="67.69" y2="242.90" stroke="#222" stroke-width="0.7"/>
<line x1="72.18" y1="241.10" x2="72.18" y2="242.90" stroke="#222" stroke-width="0.7"/>
<line x1="76.67" y1="241.10" x2="76.67" y2="244.30" stroke="#222" stroke-width="0.8"/>
<line x1="81.15" y1="241.10" x2="81.15" y2="242.90" stroke="#222" stroke-width="0.7"/>
<line x1="85.64" y1="241.10" x2="85.64" y2="242.90" stroke="#222" stroke-width="0.7"/>
<line x1="90.13" y1="241.10" x2="90.13" y2="242.90" stroke="#222" stroke-width="0.7"/>
<line x1="94.61" y1="241.10" x2="94.61" y2="242.90" stroke="#222" stroke-width="0.7"/>
<line x1="99.10" y1="241.10" x2="99.10" y2="242.90" stroke="#222" stroke-width="0.7"/>
<line x1="103.59" y1="241.10" x2="103.59" y2="242.90" stroke="#222" stroke-width="0.7"/>
<line x1="108.07" y1="241.10" x2="108.07" y2="242.90" stroke="#222" stroke-width="0.7"/>
<line x1="112.56" y1="241.10" x2="112.56" y2="242.90" stroke="#222" stroke-width="0.7"/>
<line x1="117.05" y1="241.10" x2="117.05" y2="242.90" stroke="#222" stroke-width="0.7"/>
<line x1="121.53" y1="241.10" x2="121.53" y2="244.30" stroke="#222" stroke-width="0.8"/>
<line x1="126.02" y1="241.10" x2="126.02" y2="242.90" stroke="#222" stroke-width="0.7"/>
<line x1="130.51" y1="241.10" x2="130.51" y2="242.90" stroke="#222" stroke-width="0.7"/>
<line x1="134.99" y1="241.10" x2="134.99" y2="242.90" stroke="#222" stroke-width="0.7"/>
<line x1="139.48" y1="241.10" x2="139.48" y2="242.90" stroke="#222" stroke-width="0.7"/>
<line x1="143.97" y1="241.10" x2="143.97" y2="242.90" stroke="#222" stroke-width="0.7"/>
<line x1="148.45" y1="241.10" x2="148.45" y2="242.90" stroke="#222" stroke-width="0.7"/>
<line x1="152.94" y1="241.10" x2="152.94" y2="242.90" stroke="#222" stroke-width="0.7"/>
<line x1="157.43" y1="241.10" x2="157.43" y2="242.90" stroke="#222" stroke-width="0.7"/>
<line x1="161.91" y1="241.10" x2="161.91" y2="242.90" stroke="#222" stroke-width="0.7"/>
<line x1="166.40" y1="241.10" x2="166.40" y2="244.30" stroke="#222" stroke-width="0.8"/>
<text transform="translate(31.80 252.27) scale(0.82 1)" font-size="7.67" font-weight="bold" text-anchor="middle" fill="#111" stroke="#111" stroke-width="0.12" font-family='"Liberation Sans", sans-serif'>0</text>
<text transform="translate(76.67 252.27) scale(0.82 1)" font-size="7.67" font-weight="bold" text-anchor="middle" fill="#111" stroke="#111" stroke-width="0.12" font-family='"Liberation Sans", sans-serif'>100</text>
<text transform="translate(121.53 252.27) scale(0.82 1)" font-size="7.67" font-weight="bold" text-anchor="middle" fill="#111" stroke="#111" stroke-width="0.12" font-family='"Liberation Sans", sans-serif'>200</text>
<text transform="translate(166.40 252.27) scale(0.82 1)" font-size="7.67" font-weight="bold" text-anchor="middle" fill="#111" stroke="#111" stroke-width="0.12" font-family='"Liberation Sans", sans-serif'>300</text>
<text x="99.05" y="264.13" font-size="7.4" font-weight="bold" text-anchor="middle" fill="#111" font-family='"Liberation Sans", sans-serif' stroke="#111" stroke-width="0.12">C-RP (mg/L)</text>
<text x="14.19" y="196.30" font-size="7.2" font-weight="bold" text-anchor="middle" fill="#111" stroke="#111" stroke-width="0.25" font-family='"Liberation Sans", sans-serif' transform="rotate(-90 14.19 196.30)">WBC (x10<tspan font-size="5" dy="-2.8">3</tspan><tspan dy="2.8"> cells/</tspan><tspan font-weight="normal" stroke-width="0">μ</tspan>L)</text>
<text x="1.10" y="146.89" font-size="14.6" font-weight="bold" text-anchor="start" fill="#000" font-family='"Liberation Sans", sans-serif'>E</text>
<text x="77.20" y="148.10" font-size="5.5" xml:space="preserve"><tspan font-weight="bold" font-style="normal" font-family='"Liberation Sans", sans-serif' fill="#111">p</tspan><tspan font-weight="normal" font-style="normal" font-family='"Liberation Sans", sans-serif' fill="#222"> = 0.0001</tspan></text>
<text x="82.00" y="156.31" font-size="5.5" xml:space="preserve"><tspan font-weight="bold" font-style="normal" font-family='"Liberation Sans", sans-serif' fill="#111">r</tspan><tspan font-weight="normal" font-style="normal" font-family='"Liberation Sans", sans-serif' fill="#222"> =0.46</tspan></text>
<line x1="31.50" y1="226.40" x2="155.40" y2="205.90" stroke="#222" stroke-width="0.7"/>
<line x1="31.50" y1="224.00" x2="155.40" y2="197.70" stroke="#b8b8b8" stroke-width="0.5"/>
<line x1="31.50" y1="228.50" x2="155.40" y2="214.40" stroke="#b8b8b8" stroke-width="0.5"/>
<circle cx="96.60" cy="167.60" r="1.05" fill="#000"/>
<circle cx="36.00" cy="202.10" r="1.05" fill="#000"/>
<circle cx="80.00" cy="203.90" r="1.05" fill="#000"/>
<circle cx="130.60" cy="202.90" r="1.05" fill="#000"/>
<circle cx="53.60" cy="212.30" r="1.05" fill="#000"/>
<circle cx="62.90" cy="213.10" r="1.05" fill="#000"/>
<circle cx="63.40" cy="217.40" r="1.05" fill="#000"/>
<circle cx="76.90" cy="212.30" r="1.05" fill="#000"/>
<circle cx="80.80" cy="217.90" r="1.05" fill="#000"/>
<circle cx="112.50" cy="217.40" r="1.05" fill="#000"/>
<circle cx="155.40" cy="214.90" r="1.05" fill="#000"/>
<circle cx="133.20" cy="215.60" r="1.05" fill="#000"/>
<circle cx="124.70" cy="220.80" r="1.05" fill="#000"/>
<circle cx="82.50" cy="222.50" r="1.05" fill="#000"/>
<circle cx="81.80" cy="223.80" r="1.05" fill="#000"/>
<circle cx="81.30" cy="228.40" r="1.05" fill="#000"/>
<circle cx="86.40" cy="230.00" r="1.05" fill="#000"/>
<circle cx="89.70" cy="229.00" r="1.05" fill="#000"/>
<circle cx="52.60" cy="228.40" r="1.05" fill="#000"/>
<circle cx="42.40" cy="221.80" r="1.05" fill="#000"/>
<circle cx="46.00" cy="221.80" r="1.05" fill="#000"/>
<circle cx="42.40" cy="235.30" r="1.05" fill="#000"/>
<circle cx="36.00" cy="233.50" r="1.05" fill="#000"/>
<circle cx="35.90" cy="221.70" r="1.05" fill="#000"/>
<circle cx="36.00" cy="224.80" r="1.05" fill="#000"/>
<circle cx="36.30" cy="233.80" r="1.05" fill="#000"/>
<circle cx="32.30" cy="234.20" r="1.05" fill="#000"/>
<circle cx="35.00" cy="231.00" r="1.05" fill="#000"/>
<polygon points="31.60,219.00 35.00,218.60 35.40,220.50 34.40,222.00 34.50,227.50 35.40,229.00 35.00,232.00 31.60,232.60" fill="#000"/>
<line x1="197.60" y1="156.30" x2="197.60" y2="242.80" stroke="#222" stroke-width="1.0"/>
<line x1="197.20" y1="242.40" x2="327.60" y2="242.40" stroke="#222" stroke-width="1.0"/>
<line x1="194.00" y1="242.40" x2="197.60" y2="242.40" stroke="#222" stroke-width="0.8"/>
<text transform="translate(193.00 245.08) scale(0.82 1)" font-size="7.67" font-weight="bold" text-anchor="end" fill="#111" stroke="#111" stroke-width="0.12" font-family='"Liberation Sans", sans-serif'>0.0</text>
<line x1="194.00" y1="213.70" x2="197.60" y2="213.70" stroke="#222" stroke-width="0.8"/>
<text transform="translate(193.00 216.38) scale(0.82 1)" font-size="7.67" font-weight="bold" text-anchor="end" fill="#111" stroke="#111" stroke-width="0.12" font-family='"Liberation Sans", sans-serif'>0.5</text>
<line x1="194.00" y1="185.00" x2="197.60" y2="185.00" stroke="#222" stroke-width="0.8"/>
<text transform="translate(193.00 187.68) scale(0.82 1)" font-size="7.67" font-weight="bold" text-anchor="end" fill="#111" stroke="#111" stroke-width="0.12" font-family='"Liberation Sans", sans-serif'>1.0</text>
<line x1="194.00" y1="156.30" x2="197.60" y2="156.30" stroke="#222" stroke-width="0.8"/>
<text transform="translate(193.00 158.98) scale(0.82 1)" font-size="7.67" font-weight="bold" text-anchor="end" fill="#111" stroke="#111" stroke-width="0.12" font-family='"Liberation Sans", sans-serif'>1.5</text>
<line x1="197.60" y1="242.40" x2="197.60" y2="245.60" stroke="#222" stroke-width="0.8"/>
<line x1="201.92" y1="242.40" x2="201.92" y2="244.20" stroke="#222" stroke-width="0.7"/>
<line x1="206.24" y1="242.40" x2="206.24" y2="244.20" stroke="#222" stroke-width="0.7"/>
<line x1="210.56" y1="242.40" x2="210.56" y2="244.20" stroke="#222" stroke-width="0.7"/>
<line x1="214.88" y1="242.40" x2="214.88" y2="244.20" stroke="#222" stroke-width="0.7"/>
<line x1="219.20" y1="242.40" x2="219.20" y2="244.20" stroke="#222" stroke-width="0.7"/>
<line x1="223.52" y1="242.40" x2="223.52" y2="244.20" stroke="#222" stroke-width="0.7"/>
<line x1="227.84" y1="242.40" x2="227.84" y2="244.20" stroke="#222" stroke-width="0.7"/>
<line x1="232.16" y1="242.40" x2="232.16" y2="244.20" stroke="#222" stroke-width="0.7"/>
<line x1="236.48" y1="242.40" x2="236.48" y2="244.20" stroke="#222" stroke-width="0.7"/>
<line x1="240.80" y1="242.40" x2="240.80" y2="245.60" stroke="#222" stroke-width="0.8"/>
<line x1="245.12" y1="242.40" x2="245.12" y2="244.20" stroke="#222" stroke-width="0.7"/>
<line x1="249.44" y1="242.40" x2="249.44" y2="244.20" stroke="#222" stroke-width="0.7"/>
<line x1="253.76" y1="242.40" x2="253.76" y2="244.20" stroke="#222" stroke-width="0.7"/>
<line x1="258.08" y1="242.40" x2="258.08" y2="244.20" stroke="#222" stroke-width="0.7"/>
<line x1="262.40" y1="242.40" x2="262.40" y2="244.20" stroke="#222" stroke-width="0.7"/>
<line x1="266.72" y1="242.40" x2="266.72" y2="244.20" stroke="#222" stroke-width="0.7"/>
<line x1="271.04" y1="242.40" x2="271.04" y2="244.20" stroke="#222" stroke-width="0.7"/>
<line x1="275.36" y1="242.40" x2="275.36" y2="244.20" stroke="#222" stroke-width="0.7"/>
<line x1="279.68" y1="242.40" x2="279.68" y2="244.20" stroke="#222" stroke-width="0.7"/>
<line x1="284.00" y1="242.40" x2="284.00" y2="245.60" stroke="#222" stroke-width="0.8"/>
<line x1="288.32" y1="242.40" x2="288.32" y2="244.20" stroke="#222" stroke-width="0.7"/>
<line x1="292.64" y1="242.40" x2="292.64" y2="244.20" stroke="#222" stroke-width="0.7"/>
<line x1="296.96" y1="242.40" x2="296.96" y2="244.20" stroke="#222" stroke-width="0.7"/>
<line x1="301.28" y1="242.40" x2="301.28" y2="244.20" stroke="#222" stroke-width="0.7"/>
<line x1="305.60" y1="242.40" x2="305.60" y2="244.20" stroke="#222" stroke-width="0.7"/>
<line x1="309.92" y1="242.40" x2="309.92" y2="244.20" stroke="#222" stroke-width="0.7"/>
<line x1="314.24" y1="242.40" x2="314.24" y2="244.20" stroke="#222" stroke-width="0.7"/>
<line x1="318.56" y1="242.40" x2="318.56" y2="244.20" stroke="#222" stroke-width="0.7"/>
<line x1="322.88" y1="242.40" x2="322.88" y2="244.20" stroke="#222" stroke-width="0.7"/>
<line x1="327.20" y1="242.40" x2="327.20" y2="245.60" stroke="#222" stroke-width="0.8"/>
<text transform="translate(197.60 253.27) scale(0.82 1)" font-size="7.67" font-weight="bold" text-anchor="middle" fill="#111" stroke="#111" stroke-width="0.12" font-family='"Liberation Sans", sans-serif'>0</text>
<text transform="translate(240.80 253.27) scale(0.82 1)" font-size="7.67" font-weight="bold" text-anchor="middle" fill="#111" stroke="#111" stroke-width="0.12" font-family='"Liberation Sans", sans-serif'>100</text>
<text transform="translate(284.00 253.27) scale(0.82 1)" font-size="7.67" font-weight="bold" text-anchor="middle" fill="#111" stroke="#111" stroke-width="0.12" font-family='"Liberation Sans", sans-serif'>200</text>
<text transform="translate(327.20 253.27) scale(0.82 1)" font-size="7.67" font-weight="bold" text-anchor="middle" fill="#111" stroke="#111" stroke-width="0.12" font-family='"Liberation Sans", sans-serif'>300</text>
<text x="262.40" y="263.21" font-size="7.1" font-weight="bold" text-anchor="middle" fill="#111" font-family='"Liberation Sans", sans-serif' stroke="#111" stroke-width="0.12">C-RP (mg/L)</text>
<text x="180.49" y="198.80" font-size="7.2" font-weight="bold" text-anchor="middle" fill="#111" stroke="#111" stroke-width="0.25" font-family='"Liberation Sans", sans-serif' transform="rotate(-90 180.49 198.80)">EOS (x10<tspan font-size="5" dy="-2.8">3</tspan><tspan dy="2.8"> cells/</tspan><tspan font-weight="normal" stroke-width="0">μ</tspan>L)</text>
<text x="172.80" y="146.39" font-size="14.6" font-weight="bold" text-anchor="start" fill="#000" font-family='"Liberation Sans", sans-serif'>F</text>
<text x="244.40" y="163.27" font-size="6.3" xml:space="preserve"><tspan font-weight="bold" font-style="normal" font-family='"Liberation Serif", serif' fill="#111">p</tspan><tspan font-weight="normal" font-style="normal" font-family='"Liberation Serif", serif' fill="#222"> &lt; 0.0001</tspan></text>
<text x="248.00" y="171.27" font-size="6.3" xml:space="preserve"><tspan font-weight="normal" font-style="italic" font-family='"Liberation Serif", serif' fill="#111">r</tspan><tspan font-weight="normal" font-style="normal" font-family='"Liberation Serif", serif' fill="#222"> =-0.51</tspan></text>
<line x1="200.10" y1="232.20" x2="276.00" y2="241.60" stroke="#222" stroke-width="0.7"/>
<line x1="200.10" y1="228.60" x2="278.90" y2="235.20" stroke="#b8b8b8" stroke-width="0.5"/>
<line x1="200.10" y1="235.30" x2="249.00" y2="242.00" stroke="#b8b8b8" stroke-width="0.5"/>
<circle cx="197.90" cy="180.90" r="1.05" fill="#000"/>
<circle cx="198.80" cy="200.00" r="1.05" fill="#000"/>
<circle cx="197.90" cy="213.20" r="1.05" fill="#000"/>
<circle cx="218.60" cy="212.40" r="1.05" fill="#000"/>
<circle cx="227.70" cy="219.30" r="1.05" fill="#000"/>
<circle cx="211.80" cy="223.60" r="1.05" fill="#000"/>
<circle cx="198.50" cy="199.20" r="1.05" fill="#000"/>
<circle cx="200.20" cy="229.50" r="1.05" fill="#000"/>
<circle cx="200.60" cy="233.10" r="1.05" fill="#000"/>
<circle cx="208.00" cy="238.40" r="1.05" fill="#000"/>
<circle cx="274.70" cy="238.40" r="1.05" fill="#000"/>
<circle cx="244.00" cy="240.50" r="1.05" fill="#000"/>
<circle cx="245.50" cy="241.10" r="1.05" fill="#000"/>
<circle cx="217.50" cy="241.60" r="1.05" fill="#000"/>
<circle cx="293.70" cy="241.10" r="1.05" fill="#000"/>
<circle cx="294.80" cy="241.10" r="1.05" fill="#000"/>
<circle cx="316.40" cy="241.60" r="1.05" fill="#000"/>
<circle cx="198.40" cy="224.90" r="1.05" fill="#000"/>
<circle cx="198.40" cy="226.90" r="1.05" fill="#000"/>
<circle cx="200.60" cy="229.70" r="1.05" fill="#000"/>
<circle cx="198.00" cy="231.70" r="1.05" fill="#000"/>
<circle cx="200.60" cy="233.70" r="1.05" fill="#000"/>
<circle cx="198.00" cy="236.00" r="1.05" fill="#000"/>
<circle cx="207.70" cy="238.60" r="1.05" fill="#000"/>
<circle cx="211.80" cy="223.80" r="1.05" fill="#000"/>
<circle cx="200.00" cy="238.30" r="1.05" fill="#000"/>
<circle cx="201.60" cy="239.60" r="1.05" fill="#000"/>
<circle cx="198.60" cy="240.30" r="1.05" fill="#000"/>
<circle cx="200.40" cy="241.20" r="1.05" fill="#000"/>
<circle cx="202.00" cy="241.00" r="1.05" fill="#000"/>
<circle cx="198.20" cy="238.60" r="1.05" fill="#000"/>
<circle cx="218.00" cy="241.40" r="1.05" fill="#000"/>
<circle cx="250.10" cy="241.90" r="1.05" fill="#000"/>
<circle cx="253.20" cy="241.40" r="1.05" fill="#000"/>
<circle cx="259.80" cy="241.90" r="1.05" fill="#000"/>
<circle cx="244.50" cy="240.90" r="1.05" fill="#000"/>
<circle cx="246.00" cy="241.80" r="1.05" fill="#000"/>
<line x1="364.70" y1="152.50" x2="364.70" y2="241.40" stroke="#222" stroke-width="1.0"/>
<line x1="364.30" y1="241.00" x2="499.50" y2="241.00" stroke="#222" stroke-width="1.0"/>
<line x1="361.10" y1="241.00" x2="364.70" y2="241.00" stroke="#222" stroke-width="0.8"/>
<text transform="translate(360.10 243.68) scale(0.82 1)" font-size="7.67" font-weight="bold" text-anchor="end" fill="#111" stroke="#111" stroke-width="0.12" font-family='"Liberation Sans", sans-serif'>0</text>
<line x1="361.10" y1="223.30" x2="364.70" y2="223.30" stroke="#222" stroke-width="0.8"/>
<text transform="translate(360.10 225.98) scale(0.82 1)" font-size="7.67" font-weight="bold" text-anchor="end" fill="#111" stroke="#111" stroke-width="0.12" font-family='"Liberation Sans", sans-serif'>1</text>
<line x1="361.10" y1="205.60" x2="364.70" y2="205.60" stroke="#222" stroke-width="0.8"/>
<text transform="translate(360.10 208.28) scale(0.82 1)" font-size="7.67" font-weight="bold" text-anchor="end" fill="#111" stroke="#111" stroke-width="0.12" font-family='"Liberation Sans", sans-serif'>2</text>
<line x1="361.10" y1="187.90" x2="364.70" y2="187.90" stroke="#222" stroke-width="0.8"/>
<text transform="translate(360.10 190.58) scale(0.82 1)" font-size="7.67" font-weight="bold" text-anchor="end" fill="#111" stroke="#111" stroke-width="0.12" font-family='"Liberation Sans", sans-serif'>3</text>
<line x1="361.10" y1="170.20" x2="364.70" y2="170.20" stroke="#222" stroke-width="0.8"/>
<text transform="translate(360.10 172.88) scale(0.82 1)" font-size="7.67" font-weight="bold" text-anchor="end" fill="#111" stroke="#111" stroke-width="0.12" font-family='"Liberation Sans", sans-serif'>4</text>
<line x1="361.10" y1="152.50" x2="364.70" y2="152.50" stroke="#222" stroke-width="0.8"/>
<text transform="translate(360.10 155.18) scale(0.82 1)" font-size="7.67" font-weight="bold" text-anchor="end" fill="#111" stroke="#111" stroke-width="0.12" font-family='"Liberation Sans", sans-serif'>5</text>
<line x1="364.70" y1="241.00" x2="364.70" y2="244.20" stroke="#222" stroke-width="0.8"/>
<line x1="369.18" y1="241.00" x2="369.18" y2="242.80" stroke="#222" stroke-width="0.7"/>
<line x1="373.66" y1="241.00" x2="373.66" y2="242.80" stroke="#222" stroke-width="0.7"/>
<line x1="378.14" y1="241.00" x2="378.14" y2="242.80" stroke="#222" stroke-width="0.7"/>
<line x1="382.62" y1="241.00" x2="382.62" y2="242.80" stroke="#222" stroke-width="0.7"/>
<line x1="387.10" y1="241.00" x2="387.10" y2="242.80" stroke="#222" stroke-width="0.7"/>
<line x1="391.58" y1="241.00" x2="391.58" y2="242.80" stroke="#222" stroke-width="0.7"/>
<line x1="396.06" y1="241.00" x2="396.06" y2="242.80" stroke="#222" stroke-width="0.7"/>
<line x1="400.54" y1="241.00" x2="400.54" y2="242.80" stroke="#222" stroke-width="0.7"/>
<line x1="405.02" y1="241.00" x2="405.02" y2="242.80" stroke="#222" stroke-width="0.7"/>
<line x1="409.50" y1="241.00" x2="409.50" y2="244.20" stroke="#222" stroke-width="0.8"/>
<line x1="413.98" y1="241.00" x2="413.98" y2="242.80" stroke="#222" stroke-width="0.7"/>
<line x1="418.46" y1="241.00" x2="418.46" y2="242.80" stroke="#222" stroke-width="0.7"/>
<line x1="422.94" y1="241.00" x2="422.94" y2="242.80" stroke="#222" stroke-width="0.7"/>
<line x1="427.42" y1="241.00" x2="427.42" y2="242.80" stroke="#222" stroke-width="0.7"/>
<line x1="431.90" y1="241.00" x2="431.90" y2="242.80" stroke="#222" stroke-width="0.7"/>
<line x1="436.38" y1="241.00" x2="436.38" y2="242.80" stroke="#222" stroke-width="0.7"/>
<line x1="440.86" y1="241.00" x2="440.86" y2="242.80" stroke="#222" stroke-width="0.7"/>
<line x1="445.34" y1="241.00" x2="445.34" y2="242.80" stroke="#222" stroke-width="0.7"/>
<line x1="449.82" y1="241.00" x2="449.82" y2="242.80" stroke="#222" stroke-width="0.7"/>
<line x1="454.30" y1="241.00" x2="454.30" y2="244.20" stroke="#222" stroke-width="0.8"/>
<line x1="458.78" y1="241.00" x2="458.78" y2="242.80" stroke="#222" stroke-width="0.7"/>
<line x1="463.26" y1="241.00" x2="463.26" y2="242.80" stroke="#222" stroke-width="0.7"/>
<line x1="467.74" y1="241.00" x2="467.74" y2="242.80" stroke="#222" stroke-width="0.7"/>
<line x1="472.22" y1="241.00" x2="472.22" y2="242.80" stroke="#222" stroke-width="0.7"/>
<line x1="476.70" y1="241.00" x2="476.70" y2="242.80" stroke="#222" stroke-width="0.7"/>
<line x1="481.18" y1="241.00" x2="481.18" y2="242.80" stroke="#222" stroke-width="0.7"/>
<line x1="485.66" y1="241.00" x2="485.66" y2="242.80" stroke="#222" stroke-width="0.7"/>
<line x1="490.14" y1="241.00" x2="490.14" y2="242.80" stroke="#222" stroke-width="0.7"/>
<line x1="494.62" y1="241.00" x2="494.62" y2="242.80" stroke="#222" stroke-width="0.7"/>
<line x1="499.10" y1="241.00" x2="499.10" y2="244.20" stroke="#222" stroke-width="0.8"/>
<text transform="translate(364.70 253.17) scale(0.82 1)" font-size="7.67" font-weight="bold" text-anchor="middle" fill="#111" stroke="#111" stroke-width="0.12" font-family='"Liberation Sans", sans-serif'>0</text>
<text transform="translate(409.50 253.17) scale(0.82 1)" font-size="7.67" font-weight="bold" text-anchor="middle" fill="#111" stroke="#111" stroke-width="0.12" font-family='"Liberation Sans", sans-serif'>100</text>
<text transform="translate(454.30 253.17) scale(0.82 1)" font-size="7.67" font-weight="bold" text-anchor="middle" fill="#111" stroke="#111" stroke-width="0.12" font-family='"Liberation Sans", sans-serif'>200</text>
<text transform="translate(499.10 253.17) scale(0.82 1)" font-size="7.67" font-weight="bold" text-anchor="middle" fill="#111" stroke="#111" stroke-width="0.12" font-family='"Liberation Sans", sans-serif'>300</text>
<text x="432.05" y="264.06" font-size="7.45" font-weight="bold" text-anchor="middle" fill="#111" font-family='"Liberation Sans", sans-serif' stroke="#111" stroke-width="0.12">C-RP (mg/L)</text>
<text x="351.66" y="196.40" font-size="7.4" font-weight="bold" text-anchor="middle" fill="#111" stroke="#111" stroke-width="0.25" font-family='"Liberation Sans", sans-serif' transform="rotate(-90 351.66 196.40)">LYMPH (x10<tspan font-size="5" dy="-2.8">3</tspan><tspan dy="2.8"> cells/</tspan><tspan font-weight="normal" stroke-width="0">μ</tspan>L)</text>
<text x="348.24" y="142.44" font-size="14.4" font-weight="bold" text-anchor="start" fill="#000" font-family='"Liberation Sans", sans-serif'>G</text>
<text x="415.80" y="159.43" font-size="6.1" xml:space="preserve"><tspan font-weight="bold" font-style="normal" font-family='"Liberation Sans", sans-serif' fill="#111">p</tspan><tspan font-weight="normal" font-style="normal" font-family='"Liberation Sans", sans-serif' fill="#222"> = 0.0001</tspan></text>
<text x="419.70" y="166.83" font-size="6.1" xml:space="preserve"><tspan font-weight="bold" font-style="normal" font-family='"Liberation Sans", sans-serif' fill="#111">r</tspan><tspan font-weight="normal" font-style="normal" font-family='"Liberation Sans", sans-serif' fill="#222"> =-0.66</tspan></text>
<line x1="364.70" y1="241.00" x2="488.70" y2="211.50" stroke="#222" stroke-width="0.7"/>
<line x1="364.70" y1="241.00" x2="488.30" y2="182.60" stroke="#b8b8b8" stroke-width="0.5"/>
<circle cx="368.00" cy="166.10" r="1.05" fill="#000"/>
<circle cx="386.50" cy="180.00" r="1.05" fill="#000"/>
<circle cx="365.90" cy="179.10" r="1.05" fill="#000"/>
<circle cx="365.40" cy="183.50" r="1.05" fill="#000"/>
<circle cx="365.90" cy="187.20" r="1.05" fill="#000"/>
<circle cx="368.70" cy="188.90" r="1.05" fill="#000"/>
<circle cx="365.40" cy="191.50" r="1.05" fill="#000"/>
<circle cx="366.50" cy="194.80" r="1.05" fill="#000"/>
<circle cx="366.10" cy="198.00" r="1.05" fill="#000"/>
<circle cx="379.60" cy="199.60" r="1.05" fill="#000"/>
<circle cx="375.20" cy="205.70" r="1.05" fill="#000"/>
<circle cx="366.50" cy="200.20" r="1.05" fill="#000"/>
<circle cx="367.60" cy="202.40" r="1.05" fill="#000"/>
<circle cx="368.70" cy="204.60" r="1.05" fill="#000"/>
<circle cx="366.50" cy="205.70" r="1.05" fill="#000"/>
<circle cx="365.40" cy="207.80" r="1.05" fill="#000"/>
<circle cx="367.00" cy="210.00" r="1.05" fill="#000"/>
<circle cx="365.40" cy="212.20" r="1.05" fill="#000"/>
<circle cx="368.30" cy="215.40" r="1.05" fill="#000"/>
<circle cx="365.40" cy="218.30" r="1.05" fill="#000"/>
<circle cx="369.10" cy="220.90" r="1.05" fill="#000"/>
<circle cx="369.80" cy="223.50" r="1.05" fill="#000"/>
<circle cx="395.90" cy="215.40" r="1.05" fill="#000"/>
<circle cx="386.10" cy="223.00" r="1.05" fill="#000"/>
<circle cx="395.90" cy="226.70" r="1.05" fill="#000"/>
<circle cx="375.70" cy="231.30" r="1.05" fill="#000"/>
<circle cx="414.30" cy="215.90" r="1.05" fill="#000"/>
<circle cx="410.00" cy="218.70" r="1.05" fill="#000"/>
<circle cx="445.40" cy="218.70" r="1.05" fill="#000"/>
<circle cx="429.60" cy="224.60" r="1.05" fill="#000"/>
<circle cx="423.00" cy="223.90" r="1.05" fill="#000"/>
<circle cx="414.80" cy="225.00" r="1.05" fill="#000"/>
<circle cx="415.40" cy="225.70" r="1.05" fill="#000"/>
<circle cx="413.30" cy="229.60" r="1.05" fill="#000"/>
<circle cx="419.80" cy="231.70" r="1.05" fill="#000"/>
<circle cx="413.90" cy="235.70" r="1.05" fill="#000"/>
<circle cx="463.90" cy="228.30" r="1.05" fill="#000"/>
<circle cx="466.10" cy="234.30" r="1.05" fill="#000"/>
<circle cx="457.80" cy="235.00" r="1.05" fill="#000"/>
<circle cx="488.30" cy="230.90" r="1.05" fill="#000"/>
<circle cx="369.10" cy="220.20" r="1.05" fill="#000"/>
<circle cx="369.10" cy="224.60" r="1.05" fill="#000"/>
<circle cx="366.00" cy="196.00" r="1.05" fill="#000"/>
<circle cx="367.50" cy="199.00" r="1.05" fill="#000"/>
<circle cx="366.50" cy="201.00" r="1.05" fill="#000"/>
<circle cx="367.80" cy="200.50" r="1.05" fill="#000"/>
<circle cx="368.60" cy="202.20" r="1.05" fill="#000"/>
<circle cx="366.00" cy="203.50" r="1.05" fill="#000"/>
<circle cx="367.20" cy="204.80" r="1.05" fill="#000"/>
<circle cx="365.50" cy="205.50" r="1.05" fill="#000"/>
<circle cx="365.60" cy="178.50" r="1.05" fill="#000"/>
<circle cx="365.40" cy="184.20" r="1.05" fill="#000"/>
<circle cx="365.60" cy="190.50" r="1.05" fill="#000"/>
<circle cx="365.40" cy="193.30" r="1.05" fill="#000"/>
<line x1="538.50" y1="150.70" x2="538.50" y2="243.30" stroke="#222" stroke-width="1.0"/>
<line x1="538.10" y1="242.90" x2="678.30" y2="242.90" stroke="#222" stroke-width="1.0"/>
<line x1="534.50" y1="242.90" x2="538.50" y2="242.90" stroke="#222" stroke-width="0.8"/>
<text transform="translate(533.50 245.58) scale(0.82 1)" font-size="7.67" font-weight="bold" text-anchor="end" fill="#111" stroke="#111" stroke-width="0.12" font-family='"Liberation Sans", sans-serif'>0</text>
<line x1="534.50" y1="212.17" x2="538.50" y2="212.17" stroke="#222" stroke-width="0.8"/>
<text transform="translate(533.50 214.85) scale(0.82 1)" font-size="7.67" font-weight="bold" text-anchor="end" fill="#111" stroke="#111" stroke-width="0.12" font-family='"Liberation Sans", sans-serif'>20</text>
<line x1="534.50" y1="181.43" x2="538.50" y2="181.43" stroke="#222" stroke-width="0.8"/>
<text transform="translate(533.50 184.12) scale(0.82 1)" font-size="7.67" font-weight="bold" text-anchor="end" fill="#111" stroke="#111" stroke-width="0.12" font-family='"Liberation Sans", sans-serif'>40</text>
<line x1="534.50" y1="150.70" x2="538.50" y2="150.70" stroke="#222" stroke-width="0.8"/>
<text transform="translate(533.50 153.38) scale(0.82 1)" font-size="7.67" font-weight="bold" text-anchor="end" fill="#111" stroke="#111" stroke-width="0.12" font-family='"Liberation Sans", sans-serif'>60</text>
<line x1="538.50" y1="242.90" x2="538.50" y2="246.10" stroke="#222" stroke-width="0.8"/>
<line x1="543.15" y1="242.90" x2="543.15" y2="244.70" stroke="#222" stroke-width="0.7"/>
<line x1="547.79" y1="242.90" x2="547.79" y2="244.70" stroke="#222" stroke-width="0.7"/>
<line x1="552.44" y1="242.90" x2="552.44" y2="244.70" stroke="#222" stroke-width="0.7"/>
<line x1="557.09" y1="242.90" x2="557.09" y2="244.70" stroke="#222" stroke-width="0.7"/>
<line x1="561.73" y1="242.90" x2="561.73" y2="244.70" stroke="#222" stroke-width="0.7"/>
<line x1="566.38" y1="242.90" x2="566.38" y2="244.70" stroke="#222" stroke-width="0.7"/>
<line x1="571.03" y1="242.90" x2="571.03" y2="244.70" stroke="#222" stroke-width="0.7"/>
<line x1="575.67" y1="242.90" x2="575.67" y2="244.70" stroke="#222" stroke-width="0.7"/>
<line x1="580.32" y1="242.90" x2="580.32" y2="244.70" stroke="#222" stroke-width="0.7"/>
<line x1="584.97" y1="242.90" x2="584.97" y2="246.10" stroke="#222" stroke-width="0.8"/>
<line x1="589.61" y1="242.90" x2="589.61" y2="244.70" stroke="#222" stroke-width="0.7"/>
<line x1="594.26" y1="242.90" x2="594.26" y2="244.70" stroke="#222" stroke-width="0.7"/>
<line x1="598.91" y1="242.90" x2="598.91" y2="244.70" stroke="#222" stroke-width="0.7"/>
<line x1="603.55" y1="242.90" x2="603.55" y2="244.70" stroke="#222" stroke-width="0.7"/>
<line x1="608.20" y1="242.90" x2="608.20" y2="244.70" stroke="#222" stroke-width="0.7"/>
<line x1="612.85" y1="242.90" x2="612.85" y2="244.70" stroke="#222" stroke-width="0.7"/>
<line x1="617.49" y1="242.90" x2="617.49" y2="244.70" stroke="#222" stroke-width="0.7"/>
<line x1="622.14" y1="242.90" x2="622.14" y2="244.70" stroke="#222" stroke-width="0.7"/>
<line x1="626.79" y1="242.90" x2="626.79" y2="244.70" stroke="#222" stroke-width="0.7"/>
<line x1="631.43" y1="242.90" x2="631.43" y2="246.10" stroke="#222" stroke-width="0.8"/>
<line x1="636.08" y1="242.90" x2="636.08" y2="244.70" stroke="#222" stroke-width="0.7"/>
<line x1="640.73" y1="242.90" x2="640.73" y2="244.70" stroke="#222" stroke-width="0.7"/>
<line x1="645.37" y1="242.90" x2="645.37" y2="244.70" stroke="#222" stroke-width="0.7"/>
<line x1="650.02" y1="242.90" x2="650.02" y2="244.70" stroke="#222" stroke-width="0.7"/>
<line x1="654.67" y1="242.90" x2="654.67" y2="244.70" stroke="#222" stroke-width="0.7"/>
<line x1="659.31" y1="242.90" x2="659.31" y2="244.70" stroke="#222" stroke-width="0.7"/>
<line x1="663.96" y1="242.90" x2="663.96" y2="244.70" stroke="#222" stroke-width="0.7"/>
<line x1="668.61" y1="242.90" x2="668.61" y2="244.70" stroke="#222" stroke-width="0.7"/>
<line x1="673.25" y1="242.90" x2="673.25" y2="244.70" stroke="#222" stroke-width="0.7"/>
<line x1="677.90" y1="242.90" x2="677.90" y2="246.10" stroke="#222" stroke-width="0.8"/>
<text transform="translate(538.50 255.37) scale(0.82 1)" font-size="7.67" font-weight="bold" text-anchor="middle" fill="#111" stroke="#111" stroke-width="0.12" font-family='"Liberation Sans", sans-serif'>0</text>
<text transform="translate(584.97 255.37) scale(0.82 1)" font-size="7.67" font-weight="bold" text-anchor="middle" fill="#111" stroke="#111" stroke-width="0.12" font-family='"Liberation Sans", sans-serif'>100</text>
<text transform="translate(631.43 255.37) scale(0.82 1)" font-size="7.67" font-weight="bold" text-anchor="middle" fill="#111" stroke="#111" stroke-width="0.12" font-family='"Liberation Sans", sans-serif'>200</text>
<text transform="translate(677.90 255.37) scale(0.82 1)" font-size="7.67" font-weight="bold" text-anchor="middle" fill="#111" stroke="#111" stroke-width="0.12" font-family='"Liberation Sans", sans-serif'>300</text>
<text x="608.30" y="267.54" font-size="7.7" font-weight="bold" text-anchor="middle" fill="#111" font-family='"Liberation Sans", sans-serif' stroke="#111" stroke-width="0.12">C-RP (mg/L)</text>
<text x="519.43" y="196.50" font-size="7.3" font-weight="bold" text-anchor="middle" fill="#111" stroke="#111" stroke-width="0.25" font-family='"Liberation Sans", sans-serif' transform="rotate(-90 519.43 196.50)">NLR</text>
<text x="520.28" y="143.64" font-size="14" font-weight="bold" text-anchor="start" fill="#000" font-family='"Liberation Sans", sans-serif'>H</text>
<text x="589.00" y="144.87" font-size="6.3" xml:space="preserve"><tspan font-weight="normal" font-style="normal" font-family='"Liberation Sans", sans-serif' fill="#111">p</tspan><tspan font-weight="normal" font-style="normal" font-family='"Liberation Sans", sans-serif' fill="#222"> &lt; 0.0001</tspan></text>
<text x="596.20" y="152.27" font-size="6.3" xml:space="preserve"><tspan font-weight="normal" font-style="normal" font-family='"Liberation Sans", sans-serif' fill="#111">r</tspan><tspan font-weight="normal" font-style="normal" font-family='"Liberation Sans", sans-serif' fill="#222"> =0.5</tspan></text>
<line x1="539.90" y1="230.10" x2="666.30" y2="193.80" stroke="#222" stroke-width="0.7"/>
<polyline points="539.90,225.90 571.50,215.10 610.00,202.50 640.00,191.30 666.30,179.50" fill="none" stroke="#b8b8b8" stroke-width="0.5" stroke-linejoin="round"/>
<polyline points="539.90,234.10 571.50,225.20 610.00,217.50 666.30,207.80" fill="none" stroke="#b8b8b8" stroke-width="0.5" stroke-linejoin="round"/>
<circle cx="589.00" cy="160.90" r="1.05" fill="#000"/>
<circle cx="588.80" cy="160.90" r="1.05" fill="#000"/>
<circle cx="589.70" cy="172.60" r="1.05" fill="#000"/>
<circle cx="590.30" cy="195.60" r="1.05" fill="#000"/>
<circle cx="542.40" cy="181.50" r="1.05" fill="#000"/>
<circle cx="635.90" cy="189.70" r="1.05" fill="#000"/>
<circle cx="666.80" cy="192.10" r="1.05" fill="#000"/>
<circle cx="641.20" cy="203.50" r="1.05" fill="#000"/>
<circle cx="571.20" cy="208.20" r="1.05" fill="#000"/>
<circle cx="590.90" cy="213.20" r="1.05" fill="#000"/>
<circle cx="585.00" cy="216.50" r="1.05" fill="#000"/>
<circle cx="605.90" cy="218.80" r="1.05" fill="#000"/>
<circle cx="622.60" cy="222.60" r="1.05" fill="#000"/>
<circle cx="643.80" cy="225.90" r="1.05" fill="#000"/>
<circle cx="598.50" cy="225.30" r="1.05" fill="#000"/>
<circle cx="588.20" cy="227.10" r="1.05" fill="#000"/>
<circle cx="590.30" cy="229.40" r="1.05" fill="#000"/>
<circle cx="595.30" cy="229.40" r="1.05" fill="#000"/>
<circle cx="570.60" cy="227.10" r="1.05" fill="#000"/>
<circle cx="560.90" cy="230.90" r="1.05" fill="#000"/>
<circle cx="559.40" cy="236.20" r="1.05" fill="#000"/>
<circle cx="553.50" cy="232.90" r="1.05" fill="#000"/>
<circle cx="549.10" cy="229.40" r="1.05" fill="#000"/>
<circle cx="548.50" cy="232.40" r="1.05" fill="#000"/>
<circle cx="538.80" cy="200.60" r="1.05" fill="#000"/>
<circle cx="540.30" cy="205.30" r="1.05" fill="#000"/>
<circle cx="538.80" cy="207.40" r="1.05" fill="#000"/>
<circle cx="538.90" cy="222.20" r="1.05" fill="#000"/>
<circle cx="538.60" cy="223.40" r="1.05" fill="#000"/>
<circle cx="542.20" cy="232.40" r="1.05" fill="#000"/>
<circle cx="542.80" cy="233.60" r="1.05" fill="#000"/>
<circle cx="541.60" cy="238.20" r="1.05" fill="#000"/>
<circle cx="542.90" cy="240.30" r="1.05" fill="#000"/>
<circle cx="549.10" cy="229.50" r="1.05" fill="#000"/>
<circle cx="549.10" cy="232.80" r="1.05" fill="#000"/>
<circle cx="553.10" cy="233.20" r="1.05" fill="#000"/>
<circle cx="560.60" cy="230.90" r="1.05" fill="#000"/>
<circle cx="560.00" cy="236.20" r="1.05" fill="#000"/>
<circle cx="539.20" cy="229.00" r="1.05" fill="#000"/>
<circle cx="540.60" cy="230.60" r="1.05" fill="#000"/>
<circle cx="538.80" cy="232.00" r="1.05" fill="#000"/>
<circle cx="539.60" cy="226.50" r="1.05" fill="#000"/>
<circle cx="538.70" cy="206.50" r="1.05" fill="#000"/>
<circle cx="538.20" cy="200.20" r="1.05" fill="#000"/>
<circle cx="539.30" cy="212.80" r="1.05" fill="#000"/>
<polygon points="538.20,234.00 539.80,234.20 540.80,236.00 542.20,238.50 542.00,241.00 538.20,242.40" fill="#000"/>
<line x1="187.70" y1="287.50" x2="187.70" y2="368.70" stroke="#222" stroke-width="1.0"/>
<line x1="187.30" y1="368.30" x2="309.60" y2="368.30" stroke="#222" stroke-width="1.0"/>
<line x1="184.10" y1="368.30" x2="187.70" y2="368.30" stroke="#222" stroke-width="0.8"/>
<text transform="translate(183.10 370.74) scale(0.82 1)" font-size="6.96" font-weight="bold" text-anchor="end" fill="#111" stroke="#111" stroke-width="0.12" font-family='"Liberation Sans", sans-serif'>0</text>
<line x1="184.10" y1="352.14" x2="187.70" y2="352.14" stroke="#222" stroke-width="0.8"/>
<text transform="translate(183.10 354.58) scale(0.82 1)" font-size="6.96" font-weight="bold" text-anchor="end" fill="#111" stroke="#111" stroke-width="0.12" font-family='"Liberation Sans", sans-serif'>200</text>
<line x1="184.10" y1="335.98" x2="187.70" y2="335.98" stroke="#222" stroke-width="0.8"/>
<text transform="translate(183.10 338.42) scale(0.82 1)" font-size="6.96" font-weight="bold" text-anchor="end" fill="#111" stroke="#111" stroke-width="0.12" font-family='"Liberation Sans", sans-serif'>400</text>
<line x1="184.10" y1="319.82" x2="187.70" y2="319.82" stroke="#222" stroke-width="0.8"/>
<text transform="translate(183.10 322.26) scale(0.82 1)" font-size="6.96" font-weight="bold" text-anchor="end" fill="#111" stroke="#111" stroke-width="0.12" font-family='"Liberation Sans", sans-serif'>600</text>
<line x1="184.10" y1="303.66" x2="187.70" y2="303.66" stroke="#222" stroke-width="0.8"/>
<text transform="translate(183.10 306.10) scale(0.82 1)" font-size="6.96" font-weight="bold" text-anchor="end" fill="#111" stroke="#111" stroke-width="0.12" font-family='"Liberation Sans", sans-serif'>800</text>
<line x1="184.10" y1="287.50" x2="187.70" y2="287.50" stroke="#222" stroke-width="0.8"/>
<text transform="translate(183.10 289.94) scale(0.82 1)" font-size="6.96" font-weight="bold" text-anchor="end" fill="#111" stroke="#111" stroke-width="0.12" font-family='"Liberation Sans", sans-serif'>1000</text>
<line x1="187.70" y1="368.30" x2="187.70" y2="371.50" stroke="#222" stroke-width="0.8"/>
<line x1="191.75" y1="368.30" x2="191.75" y2="370.10" stroke="#222" stroke-width="0.7"/>
<line x1="195.80" y1="368.30" x2="195.80" y2="370.10" stroke="#222" stroke-width="0.7"/>
<line x1="199.85" y1="368.30" x2="199.85" y2="370.10" stroke="#222" stroke-width="0.7"/>
<line x1="203.90" y1="368.30" x2="203.90" y2="370.10" stroke="#222" stroke-width="0.7"/>
<line x1="207.95" y1="368.30" x2="207.95" y2="370.10" stroke="#222" stroke-width="0.7"/>
<line x1="212.00" y1="368.30" x2="212.00" y2="370.10" stroke="#222" stroke-width="0.7"/>
<line x1="216.05" y1="368.30" x2="216.05" y2="370.10" stroke="#222" stroke-width="0.7"/>
<line x1="220.10" y1="368.30" x2="220.10" y2="370.10" stroke="#222" stroke-width="0.7"/>
<line x1="224.15" y1="368.30" x2="224.15" y2="370.10" stroke="#222" stroke-width="0.7"/>
<line x1="228.20" y1="368.30" x2="228.20" y2="371.50" stroke="#222" stroke-width="0.8"/>
<line x1="232.25" y1="368.30" x2="232.25" y2="370.10" stroke="#222" stroke-width="0.7"/>
<line x1="236.30" y1="368.30" x2="236.30" y2="370.10" stroke="#222" stroke-width="0.7"/>
<line x1="240.35" y1="368.30" x2="240.35" y2="370.10" stroke="#222" stroke-width="0.7"/>
<line x1="244.40" y1="368.30" x2="244.40" y2="370.10" stroke="#222" stroke-width="0.7"/>
<line x1="248.45" y1="368.30" x2="248.45" y2="370.10" stroke="#222" stroke-width="0.7"/>
<line x1="252.50" y1="368.30" x2="252.50" y2="370.10" stroke="#222" stroke-width="0.7"/>
<line x1="256.55" y1="368.30" x2="256.55" y2="370.10" stroke="#222" stroke-width="0.7"/>
<line x1="260.60" y1="368.30" x2="260.60" y2="370.10" stroke="#222" stroke-width="0.7"/>
<line x1="264.65" y1="368.30" x2="264.65" y2="370.10" stroke="#222" stroke-width="0.7"/>
<line x1="268.70" y1="368.30" x2="268.70" y2="371.50" stroke="#222" stroke-width="0.8"/>
<line x1="272.75" y1="368.30" x2="272.75" y2="370.10" stroke="#222" stroke-width="0.7"/>
<line x1="276.80" y1="368.30" x2="276.80" y2="370.10" stroke="#222" stroke-width="0.7"/>
<line x1="280.85" y1="368.30" x2="280.85" y2="370.10" stroke="#222" stroke-width="0.7"/>
<line x1="284.90" y1="368.30" x2="284.90" y2="370.10" stroke="#222" stroke-width="0.7"/>
<line x1="288.95" y1="368.30" x2="288.95" y2="370.10" stroke="#222" stroke-width="0.7"/>
<line x1="293.00" y1="368.30" x2="293.00" y2="370.10" stroke="#222" stroke-width="0.7"/>
<line x1="297.05" y1="368.30" x2="297.05" y2="370.10" stroke="#222" stroke-width="0.7"/>
<line x1="301.10" y1="368.30" x2="301.10" y2="370.10" stroke="#222" stroke-width="0.7"/>
<line x1="305.15" y1="368.30" x2="305.15" y2="370.10" stroke="#222" stroke-width="0.7"/>
<line x1="309.20" y1="368.30" x2="309.20" y2="371.50" stroke="#222" stroke-width="0.8"/>
<text transform="translate(187.70 379.47) scale(0.82 1)" font-size="6.96" font-weight="bold" text-anchor="middle" fill="#111" stroke="#111" stroke-width="0.12" font-family='"Liberation Sans", sans-serif'>0</text>
<text transform="translate(228.20 379.47) scale(0.82 1)" font-size="6.96" font-weight="bold" text-anchor="middle" fill="#111" stroke="#111" stroke-width="0.12" font-family='"Liberation Sans", sans-serif'>100</text>
<text transform="translate(268.70 379.47) scale(0.82 1)" font-size="6.96" font-weight="bold" text-anchor="middle" fill="#111" stroke="#111" stroke-width="0.12" font-family='"Liberation Sans", sans-serif'>200</text>
<text transform="translate(309.20 379.47) scale(0.82 1)" font-size="6.96" font-weight="bold" text-anchor="middle" fill="#111" stroke="#111" stroke-width="0.12" font-family='"Liberation Sans", sans-serif'>300</text>
<text x="248.60" y="388.63" font-size="6.85" font-weight="bold" text-anchor="middle" fill="#111" font-family='"Liberation Sans", sans-serif' stroke="#111" stroke-width="0.12">C-RP (mg/L)</text>
<text x="164.98" y="327.60" font-size="6.6" font-weight="bold" text-anchor="middle" fill="#111" stroke="#111" stroke-width="0.25" font-family='"Liberation Sans", sans-serif' transform="rotate(-90 164.98 327.60)">PLR</text>
<text x="159.50" y="287.90" font-size="14.5" font-weight="bold" text-anchor="start" fill="#000" font-family='"Liberation Sans", sans-serif'>I</text>
<text x="227.70" y="278.40" font-size="5.5" xml:space="preserve"><tspan font-weight="bold" font-style="normal" font-family='"Liberation Sans", sans-serif' fill="#111">p</tspan><tspan font-weight="normal" font-style="normal" font-family='"Liberation Sans", sans-serif' fill="#222"> &lt; 0.0001</tspan></text>
<text x="231.90" y="284.90" font-size="5.5" xml:space="preserve"><tspan font-weight="bold" font-style="normal" font-family='"Liberation Sans", sans-serif' fill="#111">r</tspan><tspan font-weight="normal" font-style="normal" font-family='"Liberation Sans", sans-serif' fill="#222"> =0.65</tspan></text>
<line x1="187.00" y1="357.30" x2="299.90" y2="322.60" stroke="#222" stroke-width="0.7"/>
<line x1="187.00" y1="354.50" x2="299.90" y2="312.70" stroke="#b8b8b8" stroke-width="0.5"/>
<line x1="187.00" y1="360.00" x2="299.90" y2="332.50" stroke="#b8b8b8" stroke-width="0.5"/>
<circle cx="232.50" cy="291.90" r="1.05" fill="#000"/>
<circle cx="191.90" cy="312.70" r="1.05" fill="#000"/>
<circle cx="231.70" cy="323.20" r="1.05" fill="#000"/>
<circle cx="232.00" cy="326.90" r="1.05" fill="#000"/>
<circle cx="272.30" cy="324.00" r="1.05" fill="#000"/>
<circle cx="279.40" cy="326.00" r="1.05" fill="#000"/>
<circle cx="299.90" cy="329.70" r="1.05" fill="#000"/>
<circle cx="232.50" cy="340.20" r="1.05" fill="#000"/>
<circle cx="237.70" cy="341.10" r="1.05" fill="#000"/>
<circle cx="233.40" cy="344.80" r="1.05" fill="#000"/>
<circle cx="246.20" cy="340.50" r="1.05" fill="#000"/>
<circle cx="260.90" cy="344.80" r="1.05" fill="#000"/>
<circle cx="216.10" cy="341.10" r="1.05" fill="#000"/>
<circle cx="278.00" cy="339.60" r="1.05" fill="#000"/>
<circle cx="239.60" cy="351.60" r="1.05" fill="#000"/>
<circle cx="197.60" cy="346.70" r="1.05" fill="#000"/>
<circle cx="207.50" cy="351.00" r="1.05" fill="#000"/>
<circle cx="197.60" cy="356.10" r="1.05" fill="#000"/>
<circle cx="200.40" cy="356.70" r="1.05" fill="#000"/>
<circle cx="207.00" cy="357.30" r="1.05" fill="#000"/>
<circle cx="216.10" cy="355.30" r="1.05" fill="#000"/>
<circle cx="228.80" cy="356.70" r="1.05" fill="#000"/>
<circle cx="232.50" cy="359.00" r="1.05" fill="#000"/>
<circle cx="191.80" cy="351.30" r="1.05" fill="#000"/>
<circle cx="190.40" cy="364.80" r="1.05" fill="#000"/>
<circle cx="197.70" cy="346.70" r="1.05" fill="#000"/>
<circle cx="197.20" cy="355.80" r="1.05" fill="#000"/>
<circle cx="200.70" cy="356.70" r="1.05" fill="#000"/>
<polygon points="187.60,346.00 189.20,346.20 189.40,348.00 188.90,350.00 189.60,352.00 190.20,353.80 191.60,354.60 191.20,356.00 190.00,357.00 190.80,358.80 190.20,361.00 190.60,362.60 189.50,363.40 187.60,363.40" fill="#000"/>
<line x1="415.50" y1="285.20" x2="415.50" y2="366.30" stroke="#222" stroke-width="1.0"/>
<line x1="415.10" y1="365.90" x2="536.50" y2="365.90" stroke="#222" stroke-width="1.0"/>
<line x1="411.90" y1="365.90" x2="415.50" y2="365.90" stroke="#222" stroke-width="0.8"/>
<text transform="translate(410.90 368.46) scale(0.82 1)" font-size="7.32" font-weight="bold" text-anchor="end" fill="#111" stroke="#111" stroke-width="0.12" font-family='"Liberation Sans", sans-serif'>0</text>
<line x1="411.90" y1="339.00" x2="415.50" y2="339.00" stroke="#222" stroke-width="0.8"/>
<text transform="translate(410.90 341.56) scale(0.82 1)" font-size="7.32" font-weight="bold" text-anchor="end" fill="#111" stroke="#111" stroke-width="0.12" font-family='"Liberation Sans", sans-serif'>10</text>
<line x1="411.90" y1="312.10" x2="415.50" y2="312.10" stroke="#222" stroke-width="0.8"/>
<text transform="translate(410.90 314.66) scale(0.82 1)" font-size="7.32" font-weight="bold" text-anchor="end" fill="#111" stroke="#111" stroke-width="0.12" font-family='"Liberation Sans", sans-serif'>20</text>
<line x1="411.90" y1="285.20" x2="415.50" y2="285.20" stroke="#222" stroke-width="0.8"/>
<text transform="translate(410.90 287.76) scale(0.82 1)" font-size="7.32" font-weight="bold" text-anchor="end" fill="#111" stroke="#111" stroke-width="0.12" font-family='"Liberation Sans", sans-serif'>30</text>
<line x1="415.50" y1="365.90" x2="415.50" y2="369.10" stroke="#222" stroke-width="0.8"/>
<line x1="419.52" y1="365.90" x2="419.52" y2="367.70" stroke="#222" stroke-width="0.7"/>
<line x1="423.54" y1="365.90" x2="423.54" y2="367.70" stroke="#222" stroke-width="0.7"/>
<line x1="427.56" y1="365.90" x2="427.56" y2="367.70" stroke="#222" stroke-width="0.7"/>
<line x1="431.58" y1="365.90" x2="431.58" y2="367.70" stroke="#222" stroke-width="0.7"/>
<line x1="435.60" y1="365.90" x2="435.60" y2="367.70" stroke="#222" stroke-width="0.7"/>
<line x1="439.62" y1="365.90" x2="439.62" y2="367.70" stroke="#222" stroke-width="0.7"/>
<line x1="443.64" y1="365.90" x2="443.64" y2="367.70" stroke="#222" stroke-width="0.7"/>
<line x1="447.66" y1="365.90" x2="447.66" y2="367.70" stroke="#222" stroke-width="0.7"/>
<line x1="451.68" y1="365.90" x2="451.68" y2="367.70" stroke="#222" stroke-width="0.7"/>
<line x1="455.70" y1="365.90" x2="455.70" y2="369.10" stroke="#222" stroke-width="0.8"/>
<line x1="459.72" y1="365.90" x2="459.72" y2="367.70" stroke="#222" stroke-width="0.7"/>
<line x1="463.74" y1="365.90" x2="463.74" y2="367.70" stroke="#222" stroke-width="0.7"/>
<line x1="467.76" y1="365.90" x2="467.76" y2="367.70" stroke="#222" stroke-width="0.7"/>
<line x1="471.78" y1="365.90" x2="471.78" y2="367.70" stroke="#222" stroke-width="0.7"/>
<line x1="475.80" y1="365.90" x2="475.80" y2="367.70" stroke="#222" stroke-width="0.7"/>
<line x1="479.82" y1="365.90" x2="479.82" y2="367.70" stroke="#222" stroke-width="0.7"/>
<line x1="483.84" y1="365.90" x2="483.84" y2="367.70" stroke="#222" stroke-width="0.7"/>
<line x1="487.86" y1="365.90" x2="487.86" y2="367.70" stroke="#222" stroke-width="0.7"/>
<line x1="491.88" y1="365.90" x2="491.88" y2="367.70" stroke="#222" stroke-width="0.7"/>
<line x1="495.90" y1="365.90" x2="495.90" y2="369.10" stroke="#222" stroke-width="0.8"/>
<line x1="499.92" y1="365.90" x2="499.92" y2="367.70" stroke="#222" stroke-width="0.7"/>
<line x1="503.94" y1="365.90" x2="503.94" y2="367.70" stroke="#222" stroke-width="0.7"/>
<line x1="507.96" y1="365.90" x2="507.96" y2="367.70" stroke="#222" stroke-width="0.7"/>
<line x1="511.98" y1="365.90" x2="511.98" y2="367.70" stroke="#222" stroke-width="0.7"/>
<line x1="516.00" y1="365.90" x2="516.00" y2="367.70" stroke="#222" stroke-width="0.7"/>
<line x1="520.02" y1="365.90" x2="520.02" y2="367.70" stroke="#222" stroke-width="0.7"/>
<line x1="524.04" y1="365.90" x2="524.04" y2="367.70" stroke="#222" stroke-width="0.7"/>
<line x1="528.06" y1="365.90" x2="528.06" y2="367.70" stroke="#222" stroke-width="0.7"/>
<line x1="532.08" y1="365.90" x2="532.08" y2="367.70" stroke="#222" stroke-width="0.7"/>
<line x1="536.10" y1="365.90" x2="536.10" y2="369.10" stroke="#222" stroke-width="0.8"/>
<text transform="translate(415.50 375.92) scale(0.82 1)" font-size="7.32" font-weight="bold" text-anchor="middle" fill="#111" stroke="#111" stroke-width="0.12" font-family='"Liberation Sans", sans-serif'>0</text>
<text transform="translate(455.70 375.92) scale(0.82 1)" font-size="7.32" font-weight="bold" text-anchor="middle" fill="#111" stroke="#111" stroke-width="0.12" font-family='"Liberation Sans", sans-serif'>100</text>
<text transform="translate(495.90 375.92) scale(0.82 1)" font-size="7.32" font-weight="bold" text-anchor="middle" fill="#111" stroke="#111" stroke-width="0.12" font-family='"Liberation Sans", sans-serif'>200</text>
<text transform="translate(536.10 375.92) scale(0.82 1)" font-size="7.32" font-weight="bold" text-anchor="middle" fill="#111" stroke="#111" stroke-width="0.12" font-family='"Liberation Sans", sans-serif'>300</text>
<text x="476.40" y="386.57" font-size="6.9" font-weight="bold" text-anchor="middle" fill="#111" font-family='"Liberation Sans", sans-serif' stroke="#111" stroke-width="0.12">C-RP (mg/L)</text>
<text x="398.91" y="325.20" font-size="6.7" font-weight="bold" text-anchor="middle" fill="#111" stroke="#111" stroke-width="0.25" font-family='"Liberation Sans", sans-serif' transform="rotate(-90 398.91 325.20)">IL-15 NET MFI</text>
<text x="380.14" y="290.86" font-size="14.2" font-weight="bold" text-anchor="start" fill="#000" font-family='"Liberation Sans", sans-serif'>J</text>
<text x="455.00" y="284.30" font-size="5.5" xml:space="preserve"><tspan font-weight="bold" font-style="normal" font-family='"Liberation Sans", sans-serif' fill="#111">p</tspan><tspan font-weight="normal" font-style="normal" font-family='"Liberation Sans", sans-serif' fill="#222"> &lt; 0.0001</tspan></text>
<text x="459.60" y="290.80" font-size="5.5" xml:space="preserve"><tspan font-weight="bold" font-style="normal" font-family='"Liberation Sans", sans-serif' fill="#111">r</tspan><tspan font-weight="normal" font-style="normal" font-family='"Liberation Sans", sans-serif' fill="#222"> =0.51</tspan></text>
<line x1="415.50" y1="347.70" x2="527.60" y2="306.10" stroke="#222" stroke-width="0.7"/>
<polyline points="415.50,344.30 457.00,326.70 492.00,311.00 527.60,294.80" fill="none" stroke="#b8b8b8" stroke-width="0.5" stroke-linejoin="round"/>
<polyline points="415.50,350.20 457.00,334.20 492.00,325.00 527.60,317.00" fill="none" stroke="#b8b8b8" stroke-width="0.5" stroke-linejoin="round"/>
<circle cx="459.80" cy="302.10" r="1.05" fill="#000"/>
<circle cx="459.50" cy="305.50" r="1.05" fill="#000"/>
<circle cx="443.30" cy="313.50" r="1.05" fill="#000"/>
<circle cx="488.10" cy="310.60" r="1.05" fill="#000"/>
<circle cx="500.10" cy="307.80" r="1.05" fill="#000"/>
<circle cx="527.60" cy="317.70" r="1.05" fill="#000"/>
<circle cx="464.60" cy="321.70" r="1.05" fill="#000"/>
<circle cx="456.10" cy="324.60" r="1.05" fill="#000"/>
<circle cx="458.90" cy="326.80" r="1.05" fill="#000"/>
<circle cx="460.30" cy="330.50" r="1.05" fill="#000"/>
<circle cx="460.30" cy="332.50" r="1.05" fill="#000"/>
<circle cx="473.70" cy="326.80" r="1.05" fill="#000"/>
<circle cx="507.20" cy="321.70" r="1.05" fill="#000"/>
<circle cx="504.90" cy="330.20" r="1.05" fill="#000"/>
<circle cx="443.90" cy="346.10" r="1.05" fill="#000"/>
<circle cx="467.40" cy="346.10" r="1.05" fill="#000"/>
<circle cx="428.60" cy="356.60" r="1.05" fill="#000"/>
<circle cx="434.80" cy="354.30" r="1.05" fill="#000"/>
<circle cx="433.90" cy="364.30" r="1.05" fill="#000"/>
<circle cx="415.50" cy="313.50" r="1.05" fill="#000"/>
<circle cx="415.50" cy="322.00" r="1.05" fill="#000"/>
<circle cx="417.80" cy="338.20" r="1.05" fill="#000"/>
<circle cx="419.80" cy="338.20" r="1.05" fill="#000"/>
<circle cx="419.20" cy="341.00" r="1.05" fill="#000"/>
<circle cx="424.90" cy="345.80" r="1.05" fill="#000"/>
<circle cx="424.90" cy="348.70" r="1.05" fill="#000"/>
<circle cx="419.70" cy="337.70" r="1.05" fill="#000"/>
<circle cx="417.70" cy="340.20" r="1.05" fill="#000"/>
<circle cx="419.70" cy="340.20" r="1.05" fill="#000"/>
<circle cx="418.70" cy="343.30" r="1.05" fill="#000"/>
<circle cx="417.20" cy="348.40" r="1.05" fill="#000"/>
<circle cx="419.20" cy="348.40" r="1.05" fill="#000"/>
<circle cx="416.70" cy="350.50" r="1.05" fill="#000"/>
<circle cx="417.50" cy="352.00" r="1.05" fill="#000"/>
<circle cx="416.70" cy="353.50" r="1.05" fill="#000"/>
<circle cx="418.20" cy="355.00" r="1.05" fill="#000"/>
<circle cx="419.20" cy="355.00" r="1.05" fill="#000"/>
<circle cx="417.20" cy="357.10" r="1.05" fill="#000"/>
<circle cx="416.70" cy="359.70" r="1.05" fill="#000"/>
<circle cx="416.70" cy="362.80" r="1.05" fill="#000"/>
<circle cx="416.10" cy="364.30" r="1.05" fill="#000"/>
<circle cx="425.10" cy="345.90" r="1.05" fill="#000"/>
<circle cx="425.10" cy="348.70" r="1.05" fill="#000"/>
<circle cx="428.60" cy="356.90" r="1.05" fill="#000"/></svg>
</body></html>
